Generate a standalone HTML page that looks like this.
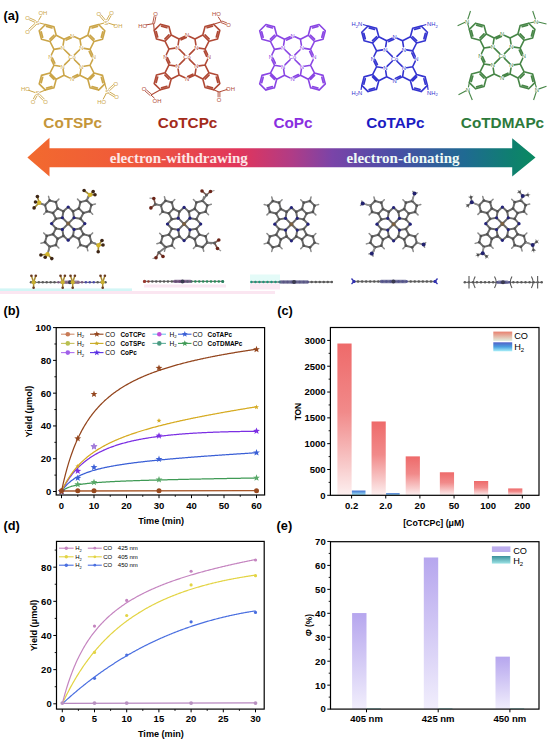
<!DOCTYPE html>
<html><head><meta charset="utf-8"><style>
html,body{margin:0;padding:0;background:#fff;}
svg{display:block;}
</style></head><body>
<svg width="550" height="746" viewBox="0 0 550 746">
<defs><linearGradient id="gco" x1="0" y1="0" x2="0" y2="1"><stop offset="0" stop-color="#ee6a6a"/><stop offset="0.45" stop-color="#f18a8a"/><stop offset="0.8" stop-color="#f8caca"/><stop offset="1" stop-color="#fdf0f0"/></linearGradient><linearGradient id="gh2" x1="0" y1="0" x2="0" y2="1"><stop offset="0" stop-color="#3e6fd0"/><stop offset="1" stop-color="#a8eef8"/></linearGradient><linearGradient id="gcoL" x1="0" y1="0" x2="0" y2="1"><stop offset="0" stop-color="#e8806e"/><stop offset="1" stop-color="#e2f0e0"/></linearGradient><linearGradient id="gh2L" x1="0" y1="0" x2="0" y2="1"><stop offset="0" stop-color="#5060c8"/><stop offset="0.5" stop-color="#4aa0e0"/><stop offset="1" stop-color="#a8f0f8"/></linearGradient><linearGradient id="gpe" x1="0" y1="0" x2="0" y2="1"><stop offset="0" stop-color="#b6a6ee"/><stop offset="1" stop-color="#f1eefc"/></linearGradient><linearGradient id="gteal" x1="0" y1="0" x2="0" y2="1"><stop offset="0" stop-color="#3a8f9a"/><stop offset="1" stop-color="#9de4e6"/></linearGradient><linearGradient id="garr" x1="27" y1="0" x2="536" y2="0" gradientUnits="userSpaceOnUse"><stop offset="0" stop-color="#f26a2e"/><stop offset="0.2" stop-color="#f05a3a"/><stop offset="0.42" stop-color="#e0355c"/><stop offset="0.52" stop-color="#b03c86"/><stop offset="0.6" stop-color="#7a44a8"/><stop offset="0.72" stop-color="#4a4ea6"/><stop offset="0.86" stop-color="#1f6a92"/><stop offset="0.95" stop-color="#0f7f70"/><stop offset="1" stop-color="#0a8a60"/></linearGradient></defs>
<text x="3.4" y="20" font-size="12.8" font-weight="bold" text-anchor="start" fill="#000" font-family="'Liberation Sans', sans-serif" >(a)</text>
<text x="3.4" y="315.3" font-size="12.8" font-weight="bold" text-anchor="start" fill="#000" font-family="'Liberation Sans', sans-serif" >(b)</text>
<text x="277.2" y="315.3" font-size="12.8" font-weight="bold" text-anchor="start" fill="#000" font-family="'Liberation Sans', sans-serif" >(c)</text>
<text x="3.4" y="529.5" font-size="12.8" font-weight="bold" text-anchor="start" fill="#000" font-family="'Liberation Sans', sans-serif" >(d)</text>
<text x="276.6" y="529.5" font-size="12.8" font-weight="bold" text-anchor="start" fill="#000" font-family="'Liberation Sans', sans-serif" >(e)</text>
<rect x="0" y="288.4" width="132" height="2.6" fill="#d2f6f6" />
<rect x="0" y="291" width="275" height="3" fill="#fbe6f1" />
<rect x="56.2" y="327.6" width="208.4" height="167.4" fill="none" stroke="#000" stroke-width="1.2"/>
<line x1="53" y1="491.5" x2="56.2" y2="491.5" stroke="#000" stroke-width="1" />
<text x="51.4" y="494.87" font-size="9.5" font-weight="bold" text-anchor="end" fill="#000" font-family="'Liberation Sans', sans-serif" >0</text>
<line x1="53" y1="458.72" x2="56.2" y2="458.72" stroke="#000" stroke-width="1" />
<text x="51.4" y="462.09" font-size="9.5" font-weight="bold" text-anchor="end" fill="#000" font-family="'Liberation Sans', sans-serif" >20</text>
<line x1="53" y1="425.94" x2="56.2" y2="425.94" stroke="#000" stroke-width="1" />
<text x="51.4" y="429.31" font-size="9.5" font-weight="bold" text-anchor="end" fill="#000" font-family="'Liberation Sans', sans-serif" >40</text>
<line x1="53" y1="393.16" x2="56.2" y2="393.16" stroke="#000" stroke-width="1" />
<text x="51.4" y="396.53" font-size="9.5" font-weight="bold" text-anchor="end" fill="#000" font-family="'Liberation Sans', sans-serif" >60</text>
<line x1="53" y1="360.38" x2="56.2" y2="360.38" stroke="#000" stroke-width="1" />
<text x="51.4" y="363.75" font-size="9.5" font-weight="bold" text-anchor="end" fill="#000" font-family="'Liberation Sans', sans-serif" >80</text>
<line x1="53" y1="327.6" x2="56.2" y2="327.6" stroke="#000" stroke-width="1" />
<text x="51.4" y="330.97" font-size="9.5" font-weight="bold" text-anchor="end" fill="#000" font-family="'Liberation Sans', sans-serif" >100</text>
<line x1="54.4" y1="475.11" x2="56.2" y2="475.11" stroke="#000" stroke-width="0.9" />
<line x1="54.4" y1="442.33" x2="56.2" y2="442.33" stroke="#000" stroke-width="0.9" />
<line x1="54.4" y1="409.55" x2="56.2" y2="409.55" stroke="#000" stroke-width="0.9" />
<line x1="54.4" y1="376.77" x2="56.2" y2="376.77" stroke="#000" stroke-width="0.9" />
<line x1="54.4" y1="343.99" x2="56.2" y2="343.99" stroke="#000" stroke-width="0.9" />
<line x1="61.5" y1="495" x2="61.5" y2="498.2" stroke="#000" stroke-width="1" />
<text x="61.5" y="508.8" font-size="9.5" font-weight="bold" text-anchor="middle" fill="#000" font-family="'Liberation Sans', sans-serif" >0</text>
<line x1="94" y1="495" x2="94" y2="498.2" stroke="#000" stroke-width="1" />
<text x="94" y="508.8" font-size="9.5" font-weight="bold" text-anchor="middle" fill="#000" font-family="'Liberation Sans', sans-serif" >10</text>
<line x1="126.5" y1="495" x2="126.5" y2="498.2" stroke="#000" stroke-width="1" />
<text x="126.5" y="508.8" font-size="9.5" font-weight="bold" text-anchor="middle" fill="#000" font-family="'Liberation Sans', sans-serif" >20</text>
<line x1="159" y1="495" x2="159" y2="498.2" stroke="#000" stroke-width="1" />
<text x="159" y="508.8" font-size="9.5" font-weight="bold" text-anchor="middle" fill="#000" font-family="'Liberation Sans', sans-serif" >30</text>
<line x1="191.5" y1="495" x2="191.5" y2="498.2" stroke="#000" stroke-width="1" />
<text x="191.5" y="508.8" font-size="9.5" font-weight="bold" text-anchor="middle" fill="#000" font-family="'Liberation Sans', sans-serif" >40</text>
<line x1="224" y1="495" x2="224" y2="498.2" stroke="#000" stroke-width="1" />
<text x="224" y="508.8" font-size="9.5" font-weight="bold" text-anchor="middle" fill="#000" font-family="'Liberation Sans', sans-serif" >50</text>
<line x1="256.5" y1="495" x2="256.5" y2="498.2" stroke="#000" stroke-width="1" />
<text x="256.5" y="508.8" font-size="9.5" font-weight="bold" text-anchor="middle" fill="#000" font-family="'Liberation Sans', sans-serif" >60</text>
<line x1="77.75" y1="495" x2="77.75" y2="496.8" stroke="#000" stroke-width="0.9" />
<line x1="110.25" y1="495" x2="110.25" y2="496.8" stroke="#000" stroke-width="0.9" />
<line x1="142.75" y1="495" x2="142.75" y2="496.8" stroke="#000" stroke-width="0.9" />
<line x1="175.25" y1="495" x2="175.25" y2="496.8" stroke="#000" stroke-width="0.9" />
<line x1="207.75" y1="495" x2="207.75" y2="496.8" stroke="#000" stroke-width="0.9" />
<line x1="240.25" y1="495" x2="240.25" y2="496.8" stroke="#000" stroke-width="0.9" />
<text transform="translate(32.2,411.6) rotate(-90)" font-size="9.1" font-weight="bold" text-anchor="middle" font-family="'Liberation Sans', sans-serif" fill="#000">Yield (&#956;mol)</text>
<text x="161.1" y="524.2" font-size="9.1" font-weight="bold" text-anchor="middle" fill="#000" font-family="'Liberation Sans', sans-serif" >Time (min)</text>
<g fill="none" stroke-linejoin="round">
<path d="M61.5,491.5 L62.31,490.82 L63.12,490.21 L63.94,489.67 L64.75,489.18 L65.56,488.73 L66.38,488.32 L67.19,487.95 L68,487.6 L68.81,487.29 L69.62,486.99 L70.44,486.72 L71.25,486.46 L72.06,486.22 L72.88,486 L73.69,485.79 L74.5,485.59 L75.31,485.4 L76.12,485.23 L76.94,485.06 L77.75,484.9 L78.56,484.75 L79.38,484.61 L80.19,484.47 L81,484.34 L81.81,484.22 L82.62,484.1 L83.44,483.98 L84.25,483.87 L85.06,483.77 L85.88,483.67 L86.69,483.57 L87.5,483.48 L88.31,483.38 L89.12,483.3 L89.94,483.21 L90.75,483.13 L91.56,483.05 L92.38,482.98 L93.19,482.9 L94,482.83 L94.81,482.76 L95.62,482.69 L96.44,482.63 L97.25,482.56 L98.06,482.5 L98.88,482.44 L99.69,482.38 L100.5,482.32 L101.31,482.27 L102.12,482.21 L102.94,482.16 L103.75,482.11 L104.56,482.06 L105.38,482.01 L106.19,481.96 L107,481.91 L107.81,481.86 L108.62,481.82 L109.44,481.77 L110.25,481.73 L111.06,481.68 L111.88,481.64 L112.69,481.6 L113.5,481.56 L114.31,481.52 L115.12,481.48 L115.94,481.44 L116.75,481.4 L117.56,481.36 L118.38,481.33 L119.19,481.29 L120,481.26 L120.81,481.22 L121.62,481.19 L122.44,481.15 L123.25,481.12 L124.06,481.08 L124.88,481.05 L125.69,481.02 L126.5,480.99 L127.31,480.96 L128.12,480.93 L128.94,480.9 L129.75,480.86 L130.56,480.84 L131.38,480.81 L132.19,480.78 L133,480.75 L133.81,480.72 L134.62,480.69 L135.44,480.66 L136.25,480.64 L137.06,480.61 L137.88,480.58 L138.69,480.56 L139.5,480.53 L140.31,480.5 L141.12,480.48 L141.94,480.45 L142.75,480.43 L143.56,480.4 L144.38,480.38 L145.19,480.35 L146,480.33 L146.81,480.3 L147.62,480.28 L148.44,480.26 L149.25,480.23 L150.06,480.21 L150.88,480.19 L151.69,480.16 L152.5,480.14 L153.31,480.12 L154.12,480.09 L154.94,480.07 L155.75,480.05 L156.56,480.03 L157.38,480.01 L158.19,479.99 L159,479.96 L159.81,479.94 L160.62,479.92 L161.44,479.9 L162.25,479.88 L163.06,479.86 L163.88,479.84 L164.69,479.82 L165.5,479.8 L166.31,479.78 L167.12,479.76 L167.94,479.74 L168.75,479.72 L169.56,479.7 L170.38,479.68 L171.19,479.66 L172,479.64 L172.81,479.62 L173.62,479.6 L174.44,479.58 L175.25,479.56 L176.06,479.54 L176.88,479.52 L177.69,479.51 L178.5,479.49 L179.31,479.47 L180.12,479.45 L180.94,479.43 L181.75,479.41 L182.56,479.4 L183.38,479.38 L184.19,479.36 L185,479.34 L185.81,479.32 L186.62,479.31 L187.44,479.29 L188.25,479.27 L189.06,479.25 L189.88,479.24 L190.69,479.22 L191.5,479.2 L192.31,479.18 L193.12,479.17 L193.94,479.15 L194.75,479.13 L195.56,479.12 L196.38,479.1 L197.19,479.08 L198,479.06 L198.81,479.05 L199.62,479.03 L200.44,479.01 L201.25,479 L202.06,478.98 L202.88,478.97 L203.69,478.95 L204.5,478.93 L205.31,478.92 L206.12,478.9 L206.94,478.88 L207.75,478.87 L208.56,478.85 L209.38,478.84 L210.19,478.82 L211,478.8 L211.81,478.79 L212.62,478.77 L213.44,478.76 L214.25,478.74 L215.06,478.72 L215.88,478.71 L216.69,478.69 L217.5,478.68 L218.31,478.66 L219.12,478.65 L219.94,478.63 L220.75,478.62 L221.56,478.6 L222.38,478.58 L223.19,478.57 L224,478.55 L224.81,478.54 L225.62,478.52 L226.44,478.51 L227.25,478.49 L228.06,478.48 L228.88,478.46 L229.69,478.45 L230.5,478.43 L231.31,478.42 L232.12,478.4 L232.94,478.39 L233.75,478.37 L234.56,478.36 L235.38,478.34 L236.19,478.33 L237,478.31 L237.81,478.3 L238.62,478.29 L239.44,478.27 L240.25,478.26 L241.06,478.24 L241.88,478.23 L242.69,478.21 L243.5,478.2 L244.31,478.18 L245.12,478.17 L245.94,478.15 L246.75,478.14 L247.56,478.13 L248.38,478.11 L249.19,478.1 L250,478.08 L250.81,478.07 L251.62,478.05 L252.44,478.04 L253.25,478.03 L254.06,478.01 L254.88,478 L255.69,477.98 L256.5,477.97" stroke="#3f9a55" stroke-width="1.25" fill="none"/>
<path d="M61.5,491.5 L62.31,490.28 L63.12,489.14 L63.94,488.07 L64.75,487.07 L65.56,486.13 L66.38,485.25 L67.19,484.41 L68,483.63 L68.81,482.88 L69.62,482.17 L70.44,481.5 L71.25,480.86 L72.06,480.25 L72.88,479.67 L73.69,479.12 L74.5,478.59 L75.31,478.08 L76.12,477.59 L76.94,477.13 L77.75,476.68 L78.56,476.25 L79.38,475.83 L80.19,475.43 L81,475.04 L81.81,474.67 L82.62,474.31 L83.44,473.96 L84.25,473.63 L85.06,473.3 L85.88,472.99 L86.69,472.68 L87.5,472.38 L88.31,472.09 L89.12,471.81 L89.94,471.54 L90.75,471.28 L91.56,471.02 L92.38,470.77 L93.19,470.52 L94,470.29 L94.81,470.05 L95.62,469.83 L96.44,469.61 L97.25,469.39 L98.06,469.18 L98.88,468.97 L99.69,468.77 L100.5,468.57 L101.31,468.38 L102.12,468.19 L102.94,468 L103.75,467.82 L104.56,467.64 L105.38,467.47 L106.19,467.3 L107,467.13 L107.81,466.97 L108.62,466.8 L109.44,466.64 L110.25,466.49 L111.06,466.33 L111.88,466.18 L112.69,466.03 L113.5,465.89 L114.31,465.74 L115.12,465.6 L115.94,465.46 L116.75,465.33 L117.56,465.19 L118.38,465.06 L119.19,464.93 L120,464.8 L120.81,464.67 L121.62,464.54 L122.44,464.42 L123.25,464.3 L124.06,464.18 L124.88,464.06 L125.69,463.94 L126.5,463.82 L127.31,463.71 L128.12,463.6 L128.94,463.48 L129.75,463.37 L130.56,463.26 L131.38,463.16 L132.19,463.05 L133,462.94 L133.81,462.84 L134.62,462.74 L135.44,462.63 L136.25,462.53 L137.06,462.43 L137.88,462.33 L138.69,462.24 L139.5,462.14 L140.31,462.04 L141.12,461.95 L141.94,461.85 L142.75,461.76 L143.56,461.67 L144.38,461.57 L145.19,461.48 L146,461.39 L146.81,461.3 L147.62,461.22 L148.44,461.13 L149.25,461.04 L150.06,460.95 L150.88,460.87 L151.69,460.78 L152.5,460.7 L153.31,460.62 L154.12,460.53 L154.94,460.45 L155.75,460.37 L156.56,460.29 L157.38,460.21 L158.19,460.13 L159,460.05 L159.81,459.97 L160.62,459.89 L161.44,459.81 L162.25,459.73 L163.06,459.66 L163.88,459.58 L164.69,459.51 L165.5,459.43 L166.31,459.36 L167.12,459.28 L167.94,459.21 L168.75,459.13 L169.56,459.06 L170.38,458.99 L171.19,458.92 L172,458.84 L172.81,458.77 L173.62,458.7 L174.44,458.63 L175.25,458.56 L176.06,458.49 L176.88,458.42 L177.69,458.35 L178.5,458.28 L179.31,458.22 L180.12,458.15 L180.94,458.08 L181.75,458.01 L182.56,457.94 L183.38,457.88 L184.19,457.81 L185,457.75 L185.81,457.68 L186.62,457.61 L187.44,457.55 L188.25,457.48 L189.06,457.42 L189.88,457.36 L190.69,457.29 L191.5,457.23 L192.31,457.16 L193.12,457.1 L193.94,457.04 L194.75,456.98 L195.56,456.91 L196.38,456.85 L197.19,456.79 L198,456.73 L198.81,456.67 L199.62,456.6 L200.44,456.54 L201.25,456.48 L202.06,456.42 L202.88,456.36 L203.69,456.3 L204.5,456.24 L205.31,456.18 L206.12,456.12 L206.94,456.06 L207.75,456 L208.56,455.94 L209.38,455.89 L210.19,455.83 L211,455.77 L211.81,455.71 L212.62,455.65 L213.44,455.59 L214.25,455.54 L215.06,455.48 L215.88,455.42 L216.69,455.37 L217.5,455.31 L218.31,455.25 L219.12,455.2 L219.94,455.14 L220.75,455.08 L221.56,455.03 L222.38,454.97 L223.19,454.91 L224,454.86 L224.81,454.8 L225.62,454.75 L226.44,454.69 L227.25,454.64 L228.06,454.58 L228.88,454.53 L229.69,454.47 L230.5,454.42 L231.31,454.36 L232.12,454.31 L232.94,454.26 L233.75,454.2 L234.56,454.15 L235.38,454.1 L236.19,454.04 L237,453.99 L237.81,453.93 L238.62,453.88 L239.44,453.83 L240.25,453.78 L241.06,453.72 L241.88,453.67 L242.69,453.62 L243.5,453.56 L244.31,453.51 L245.12,453.46 L245.94,453.41 L246.75,453.36 L247.56,453.3 L248.38,453.25 L249.19,453.2 L250,453.15 L250.81,453.1 L251.62,453.05 L252.44,452.99 L253.25,452.94 L254.06,452.89 L254.88,452.84 L255.69,452.79 L256.5,452.74" stroke="#3a5fd6" stroke-width="1.25" fill="none"/>
<path d="M61.5,491.5 L62.31,489.87 L63.12,488.31 L63.94,486.81 L64.75,485.36 L65.56,483.97 L66.38,482.63 L67.19,481.34 L68,480.09 L68.81,478.89 L69.62,477.73 L70.44,476.6 L71.25,475.52 L72.06,474.47 L72.88,473.45 L73.69,472.47 L74.5,471.52 L75.31,470.59 L76.12,469.7 L76.94,468.83 L77.75,467.99 L78.56,467.17 L79.38,466.38 L80.19,465.61 L81,464.86 L81.81,464.13 L82.62,463.42 L83.44,462.74 L84.25,462.07 L85.06,461.42 L85.88,460.78 L86.69,460.16 L87.5,459.56 L88.31,458.98 L89.12,458.41 L89.94,457.85 L90.75,457.31 L91.56,456.78 L92.38,456.26 L93.19,455.76 L94,455.27 L94.81,454.79 L95.62,454.32 L96.44,453.86 L97.25,453.41 L98.06,452.98 L98.88,452.55 L99.69,452.14 L100.5,451.73 L101.31,451.33 L102.12,450.94 L102.94,450.56 L103.75,450.19 L104.56,449.82 L105.38,449.47 L106.19,449.12 L107,448.78 L107.81,448.44 L108.62,448.11 L109.44,447.79 L110.25,447.48 L111.06,447.17 L111.88,446.87 L112.69,446.58 L113.5,446.29 L114.31,446 L115.12,445.73 L115.94,445.45 L116.75,445.19 L117.56,444.93 L118.38,444.67 L119.19,444.42 L120,444.17 L120.81,443.93 L121.62,443.69 L122.44,443.46 L123.25,443.23 L124.06,443.01 L124.88,442.79 L125.69,442.57 L126.5,442.36 L127.31,442.15 L128.12,441.95 L128.94,441.75 L129.75,441.55 L130.56,441.36 L131.38,441.17 L132.19,440.98 L133,440.8 L133.81,440.62 L134.62,440.44 L135.44,440.27 L136.25,440.1 L137.06,439.93 L137.88,439.77 L138.69,439.61 L139.5,439.45 L140.31,439.29 L141.12,439.14 L141.94,438.99 L142.75,438.84 L143.56,438.7 L144.38,438.55 L145.19,438.41 L146,438.28 L146.81,438.14 L147.62,438.01 L148.44,437.88 L149.25,437.75 L150.06,437.62 L150.88,437.5 L151.69,437.37 L152.5,437.25 L153.31,437.14 L154.12,437.02 L154.94,436.91 L155.75,436.79 L156.56,436.68 L157.38,436.58 L158.19,436.47 L159,436.36 L159.81,436.26 L160.62,436.16 L161.44,436.06 L162.25,435.96 L163.06,435.87 L163.88,435.77 L164.69,435.68 L165.5,435.59 L166.31,435.5 L167.12,435.41 L167.94,435.32 L168.75,435.23 L169.56,435.15 L170.38,435.07 L171.19,434.99 L172,434.91 L172.81,434.83 L173.62,434.75 L174.44,434.67 L175.25,434.6 L176.06,434.53 L176.88,434.45 L177.69,434.38 L178.5,434.31 L179.31,434.24 L180.12,434.18 L180.94,434.11 L181.75,434.04 L182.56,433.98 L183.38,433.92 L184.19,433.85 L185,433.79 L185.81,433.73 L186.62,433.67 L187.44,433.62 L188.25,433.56 L189.06,433.5 L189.88,433.45 L190.69,433.4 L191.5,433.34 L192.31,433.29 L193.12,433.24 L193.94,433.19 L194.75,433.14 L195.56,433.09 L196.38,433.04 L197.19,433 L198,432.95 L198.81,432.91 L199.62,432.86 L200.44,432.82 L201.25,432.78 L202.06,432.73 L202.88,432.69 L203.69,432.65 L204.5,432.61 L205.31,432.58 L206.12,432.54 L206.94,432.5 L207.75,432.46 L208.56,432.43 L209.38,432.39 L210.19,432.36 L211,432.32 L211.81,432.29 L212.62,432.26 L213.44,432.23 L214.25,432.2 L215.06,432.17 L215.88,432.14 L216.69,432.11 L217.5,432.08 L218.31,432.05 L219.12,432.02 L219.94,432 L220.75,431.97 L221.56,431.94 L222.38,431.92 L223.19,431.89 L224,431.87 L224.81,431.85 L225.62,431.82 L226.44,431.8 L227.25,431.78 L228.06,431.76 L228.88,431.74 L229.69,431.72 L230.5,431.7 L231.31,431.68 L232.12,431.66 L232.94,431.64 L233.75,431.63 L234.56,431.61 L235.38,431.59 L236.19,431.58 L237,431.56 L237.81,431.54 L238.62,431.53 L239.44,431.52 L240.25,431.5 L241.06,431.49 L241.88,431.47 L242.69,431.46 L243.5,431.45 L244.31,431.44 L245.12,431.43 L245.94,431.42 L246.75,431.41 L247.56,431.4 L248.38,431.39 L249.19,431.38 L250,431.37 L250.81,431.36 L251.62,431.35 L252.44,431.34 L253.25,431.33 L254.06,431.33 L254.88,431.32 L255.69,431.31 L256.5,431.31" stroke="#7b2fe3" stroke-width="1.25" fill="none"/>
<path d="M61.5,491.5 L62.31,489.71 L63.12,488 L63.94,486.36 L64.75,484.79 L65.56,483.27 L66.38,481.82 L67.19,480.42 L68,479.08 L68.81,477.78 L69.62,476.53 L70.44,475.32 L71.25,474.15 L72.06,473.02 L72.88,471.93 L73.69,470.87 L74.5,469.84 L75.31,468.85 L76.12,467.89 L76.94,466.95 L77.75,466.04 L78.56,465.16 L79.38,464.3 L80.19,463.47 L81,462.66 L81.81,461.86 L82.62,461.09 L83.44,460.34 L84.25,459.61 L85.06,458.9 L85.88,458.2 L86.69,457.52 L87.5,456.85 L88.31,456.2 L89.12,455.57 L89.94,454.95 L90.75,454.34 L91.56,453.74 L92.38,453.16 L93.19,452.59 L94,452.03 L94.81,451.48 L95.62,450.95 L96.44,450.42 L97.25,449.9 L98.06,449.4 L98.88,448.9 L99.69,448.41 L100.5,447.93 L101.31,447.46 L102.12,447 L102.94,446.54 L103.75,446.1 L104.56,445.66 L105.38,445.22 L106.19,444.8 L107,444.38 L107.81,443.97 L108.62,443.56 L109.44,443.16 L110.25,442.77 L111.06,442.38 L111.88,442 L112.69,441.62 L113.5,441.25 L114.31,440.89 L115.12,440.53 L115.94,440.17 L116.75,439.82 L117.56,439.47 L118.38,439.13 L119.19,438.79 L120,438.46 L120.81,438.13 L121.62,437.8 L122.44,437.48 L123.25,437.17 L124.06,436.85 L124.88,436.54 L125.69,436.24 L126.5,435.93 L127.31,435.63 L128.12,435.34 L128.94,435.05 L129.75,434.76 L130.56,434.47 L131.38,434.19 L132.19,433.91 L133,433.63 L133.81,433.35 L134.62,433.08 L135.44,432.81 L136.25,432.55 L137.06,432.28 L137.88,432.02 L138.69,431.76 L139.5,431.51 L140.31,431.25 L141.12,431 L141.94,430.75 L142.75,430.5 L143.56,430.26 L144.38,430.02 L145.19,429.77 L146,429.54 L146.81,429.3 L147.62,429.06 L148.44,428.83 L149.25,428.6 L150.06,428.37 L150.88,428.14 L151.69,427.92 L152.5,427.69 L153.31,427.47 L154.12,427.25 L154.94,427.03 L155.75,426.81 L156.56,426.6 L157.38,426.38 L158.19,426.17 L159,425.96 L159.81,425.75 L160.62,425.54 L161.44,425.33 L162.25,425.13 L163.06,424.92 L163.88,424.72 L164.69,424.52 L165.5,424.32 L166.31,424.12 L167.12,423.92 L167.94,423.73 L168.75,423.53 L169.56,423.34 L170.38,423.15 L171.19,422.95 L172,422.76 L172.81,422.57 L173.62,422.38 L174.44,422.2 L175.25,422.01 L176.06,421.83 L176.88,421.64 L177.69,421.46 L178.5,421.28 L179.31,421.09 L180.12,420.91 L180.94,420.73 L181.75,420.56 L182.56,420.38 L183.38,420.2 L184.19,420.03 L185,419.85 L185.81,419.68 L186.62,419.5 L187.44,419.33 L188.25,419.16 L189.06,418.99 L189.88,418.82 L190.69,418.65 L191.5,418.48 L192.31,418.31 L193.12,418.15 L193.94,417.98 L194.75,417.82 L195.56,417.65 L196.38,417.49 L197.19,417.32 L198,417.16 L198.81,417 L199.62,416.84 L200.44,416.68 L201.25,416.52 L202.06,416.36 L202.88,416.2 L203.69,416.04 L204.5,415.88 L205.31,415.73 L206.12,415.57 L206.94,415.41 L207.75,415.26 L208.56,415.1 L209.38,414.95 L210.19,414.8 L211,414.64 L211.81,414.49 L212.62,414.34 L213.44,414.19 L214.25,414.04 L215.06,413.89 L215.88,413.74 L216.69,413.59 L217.5,413.44 L218.31,413.29 L219.12,413.14 L219.94,412.99 L220.75,412.85 L221.56,412.7 L222.38,412.56 L223.19,412.41 L224,412.26 L224.81,412.12 L225.62,411.98 L226.44,411.83 L227.25,411.69 L228.06,411.55 L228.88,411.4 L229.69,411.26 L230.5,411.12 L231.31,410.98 L232.12,410.84 L232.94,410.7 L233.75,410.56 L234.56,410.42 L235.38,410.28 L236.19,410.14 L237,410 L237.81,409.86 L238.62,409.72 L239.44,409.59 L240.25,409.45 L241.06,409.31 L241.88,409.18 L242.69,409.04 L243.5,408.9 L244.31,408.77 L245.12,408.63 L245.94,408.5 L246.75,408.36 L247.56,408.23 L248.38,408.1 L249.19,407.96 L250,407.83 L250.81,407.7 L251.62,407.56 L252.44,407.43 L253.25,407.3 L254.06,407.17 L254.88,407.04 L255.69,406.9 L256.5,406.77" stroke="#d6ab22" stroke-width="1.25" fill="none"/>
<path d="M61.5,491.5 L62.31,487.64 L63.12,483.96 L63.94,480.46 L64.75,477.11 L65.56,473.92 L66.38,470.86 L67.19,467.93 L68,465.13 L68.81,462.44 L69.62,459.85 L70.44,457.37 L71.25,454.98 L72.06,452.68 L72.88,450.47 L73.69,448.34 L74.5,446.28 L75.31,444.29 L76.12,442.37 L76.94,440.52 L77.75,438.73 L78.56,436.99 L79.38,435.31 L80.19,433.68 L81,432.1 L81.81,430.57 L82.62,429.09 L83.44,427.65 L84.25,426.25 L85.06,424.89 L85.88,423.57 L86.69,422.28 L87.5,421.03 L88.31,419.81 L89.12,418.63 L89.94,417.48 L90.75,416.35 L91.56,415.25 L92.38,414.19 L93.19,413.14 L94,412.13 L94.81,411.13 L95.62,410.16 L96.44,409.22 L97.25,408.29 L98.06,407.39 L98.88,406.5 L99.69,405.64 L100.5,404.79 L101.31,403.96 L102.12,403.15 L102.94,402.36 L103.75,401.58 L104.56,400.82 L105.38,400.08 L106.19,399.35 L107,398.63 L107.81,397.93 L108.62,397.24 L109.44,396.57 L110.25,395.9 L111.06,395.25 L111.88,394.62 L112.69,393.99 L113.5,393.37 L114.31,392.77 L115.12,392.18 L115.94,391.59 L116.75,391.02 L117.56,390.46 L118.38,389.91 L119.19,389.36 L120,388.83 L120.81,388.3 L121.62,387.78 L122.44,387.27 L123.25,386.77 L124.06,386.28 L124.88,385.79 L125.69,385.32 L126.5,384.84 L127.31,384.38 L128.12,383.92 L128.94,383.48 L129.75,383.03 L130.56,382.6 L131.38,382.16 L132.19,381.74 L133,381.32 L133.81,380.91 L134.62,380.5 L135.44,380.1 L136.25,379.71 L137.06,379.32 L137.88,378.93 L138.69,378.55 L139.5,378.18 L140.31,377.81 L141.12,377.44 L141.94,377.08 L142.75,376.73 L143.56,376.38 L144.38,376.03 L145.19,375.69 L146,375.35 L146.81,375.01 L147.62,374.68 L148.44,374.36 L149.25,374.04 L150.06,373.72 L150.88,373.4 L151.69,373.09 L152.5,372.78 L153.31,372.48 L154.12,372.18 L154.94,371.88 L155.75,371.59 L156.56,371.3 L157.38,371.01 L158.19,370.72 L159,370.44 L159.81,370.16 L160.62,369.89 L161.44,369.62 L162.25,369.35 L163.06,369.08 L163.88,368.82 L164.69,368.55 L165.5,368.3 L166.31,368.04 L167.12,367.79 L167.94,367.54 L168.75,367.29 L169.56,367.04 L170.38,366.8 L171.19,366.55 L172,366.32 L172.81,366.08 L173.62,365.84 L174.44,365.61 L175.25,365.38 L176.06,365.15 L176.88,364.93 L177.69,364.7 L178.5,364.48 L179.31,364.26 L180.12,364.04 L180.94,363.82 L181.75,363.61 L182.56,363.4 L183.38,363.19 L184.19,362.98 L185,362.77 L185.81,362.56 L186.62,362.36 L187.44,362.16 L188.25,361.96 L189.06,361.76 L189.88,361.56 L190.69,361.36 L191.5,361.17 L192.31,360.98 L193.12,360.79 L193.94,360.6 L194.75,360.41 L195.56,360.22 L196.38,360.04 L197.19,359.85 L198,359.67 L198.81,359.49 L199.62,359.31 L200.44,359.13 L201.25,358.95 L202.06,358.78 L202.88,358.6 L203.69,358.43 L204.5,358.26 L205.31,358.09 L206.12,357.92 L206.94,357.75 L207.75,357.58 L208.56,357.41 L209.38,357.25 L210.19,357.09 L211,356.92 L211.81,356.76 L212.62,356.6 L213.44,356.44 L214.25,356.28 L215.06,356.12 L215.88,355.97 L216.69,355.81 L217.5,355.66 L218.31,355.5 L219.12,355.35 L219.94,355.2 L220.75,355.05 L221.56,354.9 L222.38,354.75 L223.19,354.6 L224,354.46 L224.81,354.31 L225.62,354.16 L226.44,354.02 L227.25,353.88 L228.06,353.73 L228.88,353.59 L229.69,353.45 L230.5,353.31 L231.31,353.17 L232.12,353.03 L232.94,352.89 L233.75,352.76 L234.56,352.62 L235.38,352.49 L236.19,352.35 L237,352.22 L237.81,352.08 L238.62,351.95 L239.44,351.82 L240.25,351.69 L241.06,351.56 L241.88,351.43 L242.69,351.3 L243.5,351.17 L244.31,351.04 L245.12,350.92 L245.94,350.79 L246.75,350.66 L247.56,350.54 L248.38,350.41 L249.19,350.29 L250,350.17 L250.81,350.04 L251.62,349.92 L252.44,349.8 L253.25,349.68 L254.06,349.56 L254.88,349.44 L255.69,349.32 L256.5,349.2" stroke="#93451d" stroke-width="1.25" fill="none"/>
</g>
<line x1="61.5" y1="491.01" x2="256.5" y2="490.68" stroke="#a8582a" stroke-width="1.3" />
<polygon points="61.5,487.9 62.39,490.28 64.92,490.39 62.94,491.97 63.62,494.41 61.5,493.01 59.38,494.41 60.06,491.97 58.08,490.39 60.61,490.28" fill="#58a868" />
<polygon points="77.75,480.85 78.64,483.23 81.17,483.34 79.19,484.92 79.87,487.36 77.75,485.96 75.63,487.36 76.31,484.92 74.33,483.34 76.86,483.23" fill="#58a868" />
<polygon points="94,478.72 94.89,481.1 97.42,481.21 95.44,482.79 96.12,485.23 94,483.83 91.88,485.23 92.56,482.79 90.58,481.21 93.11,481.1" fill="#58a868" />
<polygon points="159,476.1 159.89,478.48 162.42,478.59 160.44,480.17 161.12,482.61 159,481.21 156.88,482.61 157.56,480.17 155.58,478.59 158.11,478.48" fill="#58a868" />
<polygon points="256.5,474.3 257.39,476.67 259.92,476.78 257.94,478.36 258.62,480.81 256.5,479.41 254.38,480.81 255.06,478.36 253.08,476.78 255.61,476.67" fill="#58a868" />
<polygon points="61.5,487.9 62.39,490.28 64.92,490.39 62.94,491.97 63.62,494.41 61.5,493.01 59.38,494.41 60.06,491.97 58.08,490.39 60.61,490.28" fill="#3a5fd6" />
<polygon points="77.75,474.46 78.64,476.84 81.17,476.95 79.19,478.53 79.87,480.97 77.75,479.57 75.63,480.97 76.31,478.53 74.33,476.95 76.86,476.84" fill="#3a5fd6" />
<polygon points="94,463.64 94.89,466.02 97.42,466.13 95.44,467.71 96.12,470.16 94,468.75 91.88,470.16 92.56,467.71 90.58,466.13 93.11,466.02" fill="#3a5fd6" />
<polygon points="159,455.61 159.89,457.99 162.42,458.1 160.44,459.68 161.12,462.12 159,460.72 156.88,462.12 157.56,459.68 155.58,458.1 158.11,457.99" fill="#3a5fd6" />
<polygon points="256.5,449.06 257.39,451.43 259.92,451.54 257.94,453.12 258.62,455.57 256.5,454.17 254.38,455.57 255.06,453.12 253.08,451.54 255.61,451.43" fill="#3a5fd6" />
<polygon points="61.5,487.9 62.39,490.28 64.92,490.39 62.94,491.97 63.62,494.41 61.5,493.01 59.38,494.41 60.06,491.97 58.08,490.39 60.61,490.28" fill="#7b2fe3" />
<polygon points="77.75,467.41 78.64,469.79 81.17,469.9 79.19,471.48 79.87,473.92 77.75,472.52 75.63,473.92 76.31,471.48 74.33,469.9 76.86,469.79" fill="#7b2fe3" />
<polygon points="94,442.99 94.89,445.37 97.42,445.48 95.44,447.06 96.12,449.5 94,448.1 91.88,449.5 92.56,447.06 90.58,445.48 93.11,445.37" fill="#7b2fe3" />
<polygon points="159,432.17 159.89,434.55 162.42,434.66 160.44,436.24 161.12,438.69 159,437.29 156.88,438.69 157.56,436.24 155.58,434.66 158.11,434.55" fill="#7b2fe3" />
<polygon points="256.5,427.42 257.39,429.8 259.92,429.91 257.94,431.49 258.62,433.93 256.5,432.53 254.38,433.93 255.06,431.49 253.08,429.91 255.61,429.8" fill="#7b2fe3" />
<polygon points="61.5,488.9 62.14,490.62 63.97,490.7 62.54,491.84 63.03,493.6 61.5,492.59 59.97,493.6 60.46,491.84 59.03,490.7 60.86,490.62" fill="#d6ab22" />
<polygon points="77.75,463.66 78.39,465.38 80.22,465.46 78.79,466.6 79.28,468.36 77.75,467.35 76.22,468.36 76.71,466.6 75.28,465.46 77.11,465.38" fill="#d6ab22" />
<polygon points="159,418.1 159.64,419.81 161.47,419.89 160.04,421.03 160.53,422.8 159,421.79 157.47,422.8 157.96,421.03 156.53,419.89 158.36,419.81" fill="#d6ab22" />
<polygon points="256.5,404.49 257.14,406.21 258.97,406.29 257.54,407.43 258.03,409.19 256.5,408.18 254.97,409.19 255.46,407.43 254.03,406.29 255.86,406.21" fill="#d6ab22" />
<polygon points="61.5,487.9 62.39,490.28 64.92,490.39 62.94,491.97 63.62,494.41 61.5,493.01 59.38,494.41 60.06,491.97 58.08,490.39 60.61,490.28" fill="#93451d" />
<polygon points="77.75,434.96 78.64,437.34 81.17,437.45 79.19,439.03 79.87,441.47 77.75,440.07 75.63,441.47 76.31,439.03 74.33,437.45 76.86,437.34" fill="#93451d" />
<polygon points="94,390.54 94.89,392.92 97.42,393.03 95.44,394.61 96.12,397.06 94,395.66 91.88,397.06 92.56,394.61 90.58,393.03 93.11,392.92" fill="#93451d" />
<polygon points="159,364.48 159.89,366.86 162.42,366.97 160.44,368.55 161.12,371 159,369.6 156.88,371 157.56,368.55 155.58,366.97 158.11,366.86" fill="#93451d" />
<polygon points="256.5,345.8 257.39,348.18 259.92,348.29 257.94,349.87 258.62,352.31 256.5,350.91 254.38,352.31 255.06,349.87 253.08,348.29 255.61,348.18" fill="#93451d" />
<circle cx="61.5" cy="490.84" r="2.5" fill="#96481e" />
<circle cx="77.75" cy="490.84" r="2.5" fill="#96481e" />
<circle cx="94" cy="490.84" r="2.5" fill="#96481e" />
<circle cx="159" cy="490.84" r="2.5" fill="#96481e" />
<circle cx="256.5" cy="490.84" r="2.5" fill="#96481e" />
<polygon points="94,442.99 94.89,445.37 97.42,445.48 95.44,447.06 96.12,449.5 94,448.1 91.88,449.5 92.56,447.06 90.58,445.48 93.11,445.37" fill="#a483d6" />
<line x1="61" y1="334.2" x2="74.5" y2="334.2" stroke="#d09070" stroke-width="1.1" />
<circle cx="67.8" cy="334.2" r="2.3" fill="#c87a55" />
<line x1="61" y1="343.4" x2="74.5" y2="343.4" stroke="#c8c060" stroke-width="1.1" />
<circle cx="67.8" cy="343.4" r="2.3" fill="#b8c050" />
<line x1="61" y1="352.6" x2="74.5" y2="352.6" stroke="#b070f0" stroke-width="1.1" />
<circle cx="67.8" cy="352.6" r="2.3" fill="#a060e8" />
<text x="77" y="336.6" font-size="6.6" text-anchor="start" fill="#000" font-family="'Liberation Sans', sans-serif" >H<tspan font-size="4.4" dy="1.6">2</tspan></text>
<text x="77" y="345.8" font-size="6.6" text-anchor="start" fill="#000" font-family="'Liberation Sans', sans-serif" >H<tspan font-size="4.4" dy="1.6">2</tspan></text>
<text x="77" y="355" font-size="6.6" text-anchor="start" fill="#000" font-family="'Liberation Sans', sans-serif" >H<tspan font-size="4.4" dy="1.6">2</tspan></text>
<line x1="90" y1="334.2" x2="103.5" y2="334.2" stroke="#93451d" stroke-width="1.1" />
<polygon points="96.8,331 97.59,333.11 99.84,333.21 98.08,334.62 98.68,336.79 96.8,335.54 94.92,336.79 95.52,334.62 93.76,333.21 96.01,333.11" fill="#93451d" />
<line x1="90" y1="343.4" x2="103.5" y2="343.4" stroke="#c8aa22" stroke-width="1.1" />
<polygon points="96.8,341 97.39,342.58 99.08,342.66 97.76,343.71 98.21,345.34 96.8,344.41 95.39,345.34 95.84,343.71 94.52,342.66 96.21,342.58" fill="#c8aa22" />
<line x1="90" y1="352.6" x2="103.5" y2="352.6" stroke="#5a2fe3" stroke-width="1.1" />
<polygon points="96.8,349.4 97.59,351.51 99.84,351.61 98.08,353.02 98.68,355.19 96.8,353.94 94.92,355.19 95.52,353.02 93.76,351.61 96.01,351.51" fill="#5a2fe3" />
<text x="105.3" y="336.6" font-size="6.6" text-anchor="start" fill="#000" font-family="'Liberation Sans', sans-serif" >CO</text>
<text x="105.3" y="345.8" font-size="6.6" text-anchor="start" fill="#000" font-family="'Liberation Sans', sans-serif" >CO</text>
<text x="105.3" y="355" font-size="6.6" text-anchor="start" fill="#000" font-family="'Liberation Sans', sans-serif" >CO</text>
<text x="120.5" y="336.6" font-size="6.4" font-weight="bold" text-anchor="start" fill="#000" font-family="'Liberation Sans', sans-serif" >CoTCPc</text>
<text x="120.5" y="345.8" font-size="6.4" font-weight="bold" text-anchor="start" fill="#000" font-family="'Liberation Sans', sans-serif" >CoTSPc</text>
<text x="120.5" y="355" font-size="6.4" font-weight="bold" text-anchor="start" fill="#000" font-family="'Liberation Sans', sans-serif" >CoPc</text>
<line x1="152.5" y1="334.2" x2="166" y2="334.2" stroke="#70c8e8" stroke-width="1.1" />
<circle cx="159.3" cy="334.2" r="2.3" fill="#c050d8" />
<line x1="152.5" y1="343.4" x2="166" y2="343.4" stroke="#60b0a0" stroke-width="1.1" />
<circle cx="159.3" cy="343.4" r="2.3" fill="#4a9a80" />
<text x="169.5" y="336.6" font-size="6.6" text-anchor="start" fill="#000" font-family="'Liberation Sans', sans-serif" >H<tspan font-size="4.4" dy="1.6">2</tspan></text>
<text x="169.5" y="345.8" font-size="6.6" text-anchor="start" fill="#000" font-family="'Liberation Sans', sans-serif" >H<tspan font-size="4.4" dy="1.6">2</tspan></text>
<line x1="178" y1="334.2" x2="191.5" y2="334.2" stroke="#3a5fd6" stroke-width="1.1" />
<polygon points="184.8,331 185.59,333.11 187.84,333.21 186.08,334.62 186.68,336.79 184.8,335.54 182.92,336.79 183.52,334.62 181.76,333.21 184.01,333.11" fill="#3a5fd6" />
<line x1="178" y1="343.4" x2="191.5" y2="343.4" stroke="#3f9a55" stroke-width="1.1" />
<polygon points="184.8,340.2 185.59,342.31 187.84,342.41 186.08,343.82 186.68,345.99 184.8,344.74 182.92,345.99 183.52,343.82 181.76,342.41 184.01,342.31" fill="#3f9a55" />
<text x="192.8" y="336.6" font-size="6.6" text-anchor="start" fill="#000" font-family="'Liberation Sans', sans-serif" >CO</text>
<text x="192.8" y="345.8" font-size="6.6" text-anchor="start" fill="#000" font-family="'Liberation Sans', sans-serif" >CO</text>
<text x="207.6" y="336.6" font-size="6.4" font-weight="bold" text-anchor="start" fill="#000" font-family="'Liberation Sans', sans-serif" >CoTAPc</text>
<text x="207.6" y="345.8" font-size="6.4" font-weight="bold" text-anchor="start" fill="#000" font-family="'Liberation Sans', sans-serif" >CoTDMAPc</text>
<rect x="337.4" y="343.51" width="14.2" height="151.79" fill="url(#gco)" />
<rect x="351.9" y="490.55" width="13.6" height="4.75" fill="url(#gh2)" />
<rect x="371.55" y="421.47" width="14.2" height="73.83" fill="url(#gco)" />
<rect x="386.05" y="493.13" width="13.6" height="2.17" fill="url(#gh2)" />
<rect x="405.7" y="456.37" width="14.2" height="38.93" fill="url(#gco)" />
<rect x="439.85" y="472.27" width="14.2" height="23.03" fill="url(#gco)" />
<rect x="474" y="481" width="14.2" height="14.3" fill="url(#gco)" />
<rect x="508.15" y="488.43" width="14.2" height="6.87" fill="url(#gco)" />
<rect x="330.4" y="327.5" width="208.6" height="167.8" fill="none" stroke="#000" stroke-width="1.2"/>
<line x1="327.2" y1="495.3" x2="330.4" y2="495.3" stroke="#000" stroke-width="1" />
<text x="325.6" y="498.67" font-size="9.5" font-weight="bold" text-anchor="end" fill="#000" font-family="'Liberation Sans', sans-serif" >0</text>
<line x1="327.2" y1="469.49" x2="330.4" y2="469.49" stroke="#000" stroke-width="1" />
<text x="325.6" y="472.86" font-size="9.5" font-weight="bold" text-anchor="end" fill="#000" font-family="'Liberation Sans', sans-serif" >500</text>
<line x1="327.2" y1="443.67" x2="330.4" y2="443.67" stroke="#000" stroke-width="1" />
<text x="325.6" y="447.04" font-size="9.5" font-weight="bold" text-anchor="end" fill="#000" font-family="'Liberation Sans', sans-serif" >1000</text>
<line x1="327.2" y1="417.86" x2="330.4" y2="417.86" stroke="#000" stroke-width="1" />
<text x="325.6" y="421.23" font-size="9.5" font-weight="bold" text-anchor="end" fill="#000" font-family="'Liberation Sans', sans-serif" >1500</text>
<line x1="327.2" y1="392.04" x2="330.4" y2="392.04" stroke="#000" stroke-width="1" />
<text x="325.6" y="395.41" font-size="9.5" font-weight="bold" text-anchor="end" fill="#000" font-family="'Liberation Sans', sans-serif" >2000</text>
<line x1="327.2" y1="366.23" x2="330.4" y2="366.23" stroke="#000" stroke-width="1" />
<text x="325.6" y="369.6" font-size="9.5" font-weight="bold" text-anchor="end" fill="#000" font-family="'Liberation Sans', sans-serif" >2500</text>
<line x1="327.2" y1="340.41" x2="330.4" y2="340.41" stroke="#000" stroke-width="1" />
<text x="325.6" y="343.78" font-size="9.5" font-weight="bold" text-anchor="end" fill="#000" font-family="'Liberation Sans', sans-serif" >3000</text>
<line x1="328.6" y1="482.39" x2="330.4" y2="482.39" stroke="#000" stroke-width="0.9" />
<line x1="328.6" y1="456.58" x2="330.4" y2="456.58" stroke="#000" stroke-width="0.9" />
<line x1="328.6" y1="430.76" x2="330.4" y2="430.76" stroke="#000" stroke-width="0.9" />
<line x1="328.6" y1="404.95" x2="330.4" y2="404.95" stroke="#000" stroke-width="0.9" />
<line x1="328.6" y1="379.13" x2="330.4" y2="379.13" stroke="#000" stroke-width="0.9" />
<line x1="328.6" y1="353.32" x2="330.4" y2="353.32" stroke="#000" stroke-width="0.9" />
<line x1="351.6" y1="495.3" x2="351.6" y2="498.5" stroke="#000" stroke-width="1" />
<text x="351.6" y="508.5" font-size="9.5" font-weight="bold" text-anchor="middle" fill="#000" font-family="'Liberation Sans', sans-serif" >0.2</text>
<line x1="385.75" y1="495.3" x2="385.75" y2="498.5" stroke="#000" stroke-width="1" />
<text x="385.75" y="508.5" font-size="9.5" font-weight="bold" text-anchor="middle" fill="#000" font-family="'Liberation Sans', sans-serif" >2.0</text>
<line x1="419.9" y1="495.3" x2="419.9" y2="498.5" stroke="#000" stroke-width="1" />
<text x="419.9" y="508.5" font-size="9.5" font-weight="bold" text-anchor="middle" fill="#000" font-family="'Liberation Sans', sans-serif" >20</text>
<line x1="454.05" y1="495.3" x2="454.05" y2="498.5" stroke="#000" stroke-width="1" />
<text x="454.05" y="508.5" font-size="9.5" font-weight="bold" text-anchor="middle" fill="#000" font-family="'Liberation Sans', sans-serif" >50</text>
<line x1="488.2" y1="495.3" x2="488.2" y2="498.5" stroke="#000" stroke-width="1" />
<text x="488.2" y="508.5" font-size="9.5" font-weight="bold" text-anchor="middle" fill="#000" font-family="'Liberation Sans', sans-serif" >100</text>
<line x1="522.35" y1="495.3" x2="522.35" y2="498.5" stroke="#000" stroke-width="1" />
<text x="522.35" y="508.5" font-size="9.5" font-weight="bold" text-anchor="middle" fill="#000" font-family="'Liberation Sans', sans-serif" >200</text>
<text transform="translate(300.6,411.6) rotate(-90)" font-size="8.4" font-weight="bold" text-anchor="middle" font-family="'Liberation Sans', sans-serif" fill="#000">TON</text>
<text x="433.7" y="525.5" font-size="8.8" font-weight="bold" text-anchor="middle" fill="#000" font-family="'Liberation Sans', sans-serif" >[CoTCPc] (&#956;M)</text>
<rect x="493.3" y="331.6" width="18.9" height="9.4" fill="url(#gcoL)" />
<rect x="493.3" y="342.3" width="18.9" height="9" fill="url(#gh2L)" />
<text x="514.2" y="339.3" font-size="9.2" text-anchor="start" fill="#000" font-family="'Liberation Sans', sans-serif" >CO</text>
<text x="514.2" y="350" font-size="9.2" text-anchor="start" fill="#000" font-family="'Liberation Sans', sans-serif" >H<tspan font-size="6" dy="2">2</tspan></text>
<rect x="56.5" y="541.4" width="207.7" height="167.7" fill="none" stroke="#000" stroke-width="1.2"/>
<line x1="53.3" y1="703.8" x2="56.5" y2="703.8" stroke="#000" stroke-width="1" />
<text x="51.7" y="707.17" font-size="9.5" font-weight="bold" text-anchor="end" fill="#000" font-family="'Liberation Sans', sans-serif" >0</text>
<line x1="53.3" y1="669.64" x2="56.5" y2="669.64" stroke="#000" stroke-width="1" />
<text x="51.7" y="673.01" font-size="9.5" font-weight="bold" text-anchor="end" fill="#000" font-family="'Liberation Sans', sans-serif" >20</text>
<line x1="53.3" y1="635.48" x2="56.5" y2="635.48" stroke="#000" stroke-width="1" />
<text x="51.7" y="638.85" font-size="9.5" font-weight="bold" text-anchor="end" fill="#000" font-family="'Liberation Sans', sans-serif" >40</text>
<line x1="53.3" y1="601.32" x2="56.5" y2="601.32" stroke="#000" stroke-width="1" />
<text x="51.7" y="604.69" font-size="9.5" font-weight="bold" text-anchor="end" fill="#000" font-family="'Liberation Sans', sans-serif" >60</text>
<line x1="53.3" y1="567.16" x2="56.5" y2="567.16" stroke="#000" stroke-width="1" />
<text x="51.7" y="570.53" font-size="9.5" font-weight="bold" text-anchor="end" fill="#000" font-family="'Liberation Sans', sans-serif" >80</text>
<line x1="54.7" y1="686.72" x2="56.5" y2="686.72" stroke="#000" stroke-width="0.9" />
<line x1="54.7" y1="652.56" x2="56.5" y2="652.56" stroke="#000" stroke-width="0.9" />
<line x1="54.7" y1="618.4" x2="56.5" y2="618.4" stroke="#000" stroke-width="0.9" />
<line x1="54.7" y1="584.24" x2="56.5" y2="584.24" stroke="#000" stroke-width="0.9" />
<line x1="54.7" y1="550.08" x2="56.5" y2="550.08" stroke="#000" stroke-width="0.9" />
<line x1="62.3" y1="709.1" x2="62.3" y2="712.3" stroke="#000" stroke-width="1" />
<text x="62.3" y="722.2" font-size="9.5" font-weight="bold" text-anchor="middle" fill="#000" font-family="'Liberation Sans', sans-serif" >0</text>
<line x1="94.5" y1="709.1" x2="94.5" y2="712.3" stroke="#000" stroke-width="1" />
<text x="94.5" y="722.2" font-size="9.5" font-weight="bold" text-anchor="middle" fill="#000" font-family="'Liberation Sans', sans-serif" >5</text>
<line x1="126.7" y1="709.1" x2="126.7" y2="712.3" stroke="#000" stroke-width="1" />
<text x="126.7" y="722.2" font-size="9.5" font-weight="bold" text-anchor="middle" fill="#000" font-family="'Liberation Sans', sans-serif" >10</text>
<line x1="158.9" y1="709.1" x2="158.9" y2="712.3" stroke="#000" stroke-width="1" />
<text x="158.9" y="722.2" font-size="9.5" font-weight="bold" text-anchor="middle" fill="#000" font-family="'Liberation Sans', sans-serif" >15</text>
<line x1="191.1" y1="709.1" x2="191.1" y2="712.3" stroke="#000" stroke-width="1" />
<text x="191.1" y="722.2" font-size="9.5" font-weight="bold" text-anchor="middle" fill="#000" font-family="'Liberation Sans', sans-serif" >20</text>
<line x1="223.3" y1="709.1" x2="223.3" y2="712.3" stroke="#000" stroke-width="1" />
<text x="223.3" y="722.2" font-size="9.5" font-weight="bold" text-anchor="middle" fill="#000" font-family="'Liberation Sans', sans-serif" >25</text>
<line x1="255.5" y1="709.1" x2="255.5" y2="712.3" stroke="#000" stroke-width="1" />
<text x="255.5" y="722.2" font-size="9.5" font-weight="bold" text-anchor="middle" fill="#000" font-family="'Liberation Sans', sans-serif" >30</text>
<line x1="78.4" y1="709.1" x2="78.4" y2="710.9" stroke="#000" stroke-width="0.9" />
<line x1="110.6" y1="709.1" x2="110.6" y2="710.9" stroke="#000" stroke-width="0.9" />
<line x1="142.8" y1="709.1" x2="142.8" y2="710.9" stroke="#000" stroke-width="0.9" />
<line x1="175" y1="709.1" x2="175" y2="710.9" stroke="#000" stroke-width="0.9" />
<line x1="207.2" y1="709.1" x2="207.2" y2="710.9" stroke="#000" stroke-width="0.9" />
<line x1="239.4" y1="709.1" x2="239.4" y2="710.9" stroke="#000" stroke-width="0.9" />
<text transform="translate(36.9,625.5) rotate(-90)" font-size="9.1" font-weight="bold" text-anchor="middle" font-family="'Liberation Sans', sans-serif" fill="#000">Yield (&#956;mol)</text>
<text x="160.9" y="737.4" font-size="9.1" font-weight="bold" text-anchor="middle" fill="#000" font-family="'Liberation Sans', sans-serif" >Time (min)</text>
<path d="M62.3,703.8 L63.1,703.05 L63.91,702.31 L64.72,701.58 L65.52,700.84 L66.33,700.11 L67.13,699.39 L67.94,698.67 L68.74,697.95 L69.55,697.24 L70.35,696.53 L71.16,695.82 L71.96,695.12 L72.77,694.42 L73.57,693.73 L74.38,693.04 L75.18,692.35 L75.98,691.67 L76.79,690.99 L77.59,690.32 L78.4,689.65 L79.2,688.98 L80.01,688.32 L80.81,687.66 L81.62,687 L82.42,686.35 L83.23,685.7 L84.03,685.06 L84.84,684.42 L85.64,683.78 L86.45,683.15 L87.25,682.52 L88.06,681.89 L88.86,681.27 L89.67,680.65 L90.47,680.03 L91.28,679.42 L92.08,678.81 L92.89,678.2 L93.69,677.6 L94.5,677 L95.31,676.41 L96.11,675.82 L96.91,675.23 L97.72,674.64 L98.53,674.06 L99.33,673.48 L100.13,672.91 L100.94,672.34 L101.75,671.77 L102.55,671.21 L103.35,670.64 L104.16,670.09 L104.97,669.53 L105.77,668.98 L106.58,668.43 L107.38,667.89 L108.19,667.34 L108.99,666.81 L109.8,666.27 L110.6,665.74 L111.41,665.21 L112.21,664.68 L113.02,664.16 L113.82,663.64 L114.62,663.12 L115.43,662.61 L116.23,662.1 L117.04,661.59 L117.84,661.09 L118.65,660.58 L119.45,660.09 L120.26,659.59 L121.06,659.1 L121.87,658.61 L122.68,658.12 L123.48,657.64 L124.28,657.16 L125.09,656.68 L125.9,656.21 L126.7,655.73 L127.5,655.26 L128.31,654.8 L129.12,654.34 L129.92,653.88 L130.72,653.42 L131.53,652.96 L132.34,652.51 L133.14,652.06 L133.94,651.62 L134.75,651.17 L135.56,650.73 L136.36,650.29 L137.17,649.86 L137.97,649.43 L138.78,649 L139.58,648.57 L140.38,648.15 L141.19,647.73 L142,647.31 L142.8,646.89 L143.61,646.48 L144.41,646.07 L145.22,645.66 L146.02,645.25 L146.82,644.85 L147.63,644.45 L148.44,644.05 L149.24,643.66 L150.05,643.27 L150.85,642.88 L151.66,642.49 L152.46,642.1 L153.26,641.72 L154.07,641.34 L154.88,640.96 L155.68,640.59 L156.49,640.22 L157.29,639.85 L158.09,639.48 L158.9,639.12 L159.7,638.75 L160.51,638.4 L161.31,638.04 L162.12,637.68 L162.93,637.33 L163.73,636.98 L164.53,636.63 L165.34,636.29 L166.15,635.95 L166.95,635.6 L167.75,635.27 L168.56,634.93 L169.37,634.6 L170.17,634.27 L170.98,633.94 L171.78,633.61 L172.59,633.29 L173.39,632.97 L174.19,632.65 L175,632.33 L175.81,632.02 L176.61,631.7 L177.42,631.39 L178.22,631.08 L179.03,630.78 L179.83,630.47 L180.63,630.17 L181.44,629.87 L182.25,629.58 L183.05,629.28 L183.86,628.99 L184.66,628.7 L185.47,628.41 L186.27,628.13 L187.07,627.84 L187.88,627.56 L188.69,627.28 L189.49,627 L190.3,626.73 L191.1,626.46 L191.91,626.18 L192.71,625.92 L193.51,625.65 L194.32,625.38 L195.12,625.12 L195.93,624.86 L196.74,624.6 L197.54,624.35 L198.35,624.09 L199.15,623.84 L199.95,623.59 L200.76,623.34 L201.56,623.1 L202.37,622.85 L203.18,622.61 L203.98,622.37 L204.79,622.13 L205.59,621.89 L206.39,621.66 L207.2,621.43 L208,621.2 L208.81,620.97 L209.62,620.74 L210.42,620.52 L211.23,620.3 L212.03,620.07 L212.83,619.86 L213.64,619.64 L214.44,619.42 L215.25,619.21 L216.06,619 L216.86,618.79 L217.67,618.58 L218.47,618.38 L219.28,618.18 L220.08,617.97 L220.88,617.77 L221.69,617.58 L222.5,617.38 L223.3,617.19 L224.11,616.99 L224.91,616.8 L225.72,616.61 L226.52,616.43 L227.32,616.24 L228.13,616.06 L228.94,615.88 L229.74,615.7 L230.55,615.52 L231.35,615.34 L232.16,615.17 L232.96,614.99 L233.76,614.82 L234.57,614.65 L235.38,614.49 L236.18,614.32 L236.99,614.16 L237.79,613.99 L238.6,613.83 L239.4,613.67 L240.2,613.52 L241.01,613.36 L241.81,613.21 L242.62,613.05 L243.43,612.9 L244.23,612.75 L245.04,612.61 L245.84,612.46 L246.64,612.32 L247.45,612.18 L248.25,612.04 L249.06,611.9 L249.87,611.76 L250.67,611.62 L251.48,611.49 L252.28,611.36 L253.09,611.23 L253.89,611.1 L254.69,610.97 L255.5,610.84" stroke="#4a6fe0" stroke-width="1.2" fill="none"/>
<circle cx="94.5" cy="678.35" r="1.6" fill="#4a6fe0" />
<circle cx="126.7" cy="655.12" r="1.6" fill="#4a6fe0" />
<circle cx="191.1" cy="621.82" r="1.6" fill="#4a6fe0" />
<circle cx="255.5" cy="612.42" r="1.6" fill="#4a6fe0" />
<path d="M62.3,703.8 L63.1,702.06 L63.91,700.35 L64.72,698.67 L65.52,697.02 L66.33,695.39 L67.13,693.79 L67.94,692.21 L68.74,690.66 L69.55,689.14 L70.35,687.63 L71.16,686.15 L71.96,684.7 L72.77,683.26 L73.57,681.85 L74.38,680.46 L75.18,679.09 L75.98,677.74 L76.79,676.41 L77.59,675.1 L78.4,673.81 L79.2,672.54 L80.01,671.28 L80.81,670.05 L81.62,668.83 L82.42,667.63 L83.23,666.45 L84.03,665.28 L84.84,664.13 L85.64,663 L86.45,661.88 L87.25,660.78 L88.06,659.69 L88.86,658.62 L89.67,657.56 L90.47,656.51 L91.28,655.49 L92.08,654.47 L92.89,653.47 L93.69,652.48 L94.5,651.5 L95.31,650.54 L96.11,649.59 L96.91,648.65 L97.72,647.73 L98.53,646.82 L99.33,645.92 L100.13,645.03 L100.94,644.15 L101.75,643.28 L102.55,642.42 L103.35,641.58 L104.16,640.74 L104.97,639.92 L105.77,639.11 L106.58,638.3 L107.38,637.51 L108.19,636.72 L108.99,635.95 L109.8,635.18 L110.6,634.43 L111.41,633.68 L112.21,632.94 L113.02,632.22 L113.82,631.5 L114.62,630.79 L115.43,630.08 L116.23,629.39 L117.04,628.7 L117.84,628.02 L118.65,627.35 L119.45,626.69 L120.26,626.04 L121.06,625.39 L121.87,624.75 L122.68,624.12 L123.48,623.49 L124.28,622.88 L125.09,622.27 L125.9,621.66 L126.7,621.07 L127.5,620.48 L128.31,619.89 L129.12,619.32 L129.92,618.75 L130.72,618.18 L131.53,617.63 L132.34,617.08 L133.14,616.53 L133.94,615.99 L134.75,615.46 L135.56,614.93 L136.36,614.41 L137.17,613.9 L137.97,613.39 L138.78,612.88 L139.58,612.38 L140.38,611.89 L141.19,611.4 L142,610.92 L142.8,610.44 L143.61,609.97 L144.41,609.5 L145.22,609.04 L146.02,608.58 L146.82,608.13 L147.63,607.68 L148.44,607.24 L149.24,606.8 L150.05,606.37 L150.85,605.94 L151.66,605.51 L152.46,605.09 L153.26,604.68 L154.07,604.26 L154.88,603.86 L155.68,603.45 L156.49,603.06 L157.29,602.66 L158.09,602.27 L158.9,601.88 L159.7,601.5 L160.51,601.12 L161.31,600.75 L162.12,600.38 L162.93,600.01 L163.73,599.65 L164.53,599.29 L165.34,598.93 L166.15,598.58 L166.95,598.23 L167.75,597.89 L168.56,597.55 L169.37,597.21 L170.17,596.87 L170.98,596.54 L171.78,596.21 L172.59,595.89 L173.39,595.57 L174.19,595.25 L175,594.94 L175.81,594.62 L176.61,594.32 L177.42,594.01 L178.22,593.71 L179.03,593.41 L179.83,593.11 L180.63,592.82 L181.44,592.53 L182.25,592.24 L183.05,591.95 L183.86,591.67 L184.66,591.39 L185.47,591.12 L186.27,590.84 L187.07,590.57 L187.88,590.3 L188.69,590.04 L189.49,589.78 L190.3,589.52 L191.1,589.26 L191.91,589 L192.71,588.75 L193.51,588.5 L194.32,588.25 L195.12,588.01 L195.93,587.76 L196.74,587.52 L197.54,587.28 L198.35,587.05 L199.15,586.81 L199.95,586.58 L200.76,586.35 L201.56,586.13 L202.37,585.9 L203.18,585.68 L203.98,585.46 L204.79,585.24 L205.59,585.03 L206.39,584.81 L207.2,584.6 L208,584.39 L208.81,584.19 L209.62,583.98 L210.42,583.78 L211.23,583.58 L212.03,583.38 L212.83,583.18 L213.64,582.98 L214.44,582.79 L215.25,582.6 L216.06,582.41 L216.86,582.22 L217.67,582.03 L218.47,581.85 L219.28,581.67 L220.08,581.49 L220.88,581.31 L221.69,581.13 L222.5,580.96 L223.3,580.78 L224.11,580.61 L224.91,580.44 L225.72,580.27 L226.52,580.11 L227.32,579.94 L228.13,579.78 L228.94,579.62 L229.74,579.45 L230.55,579.3 L231.35,579.14 L232.16,578.98 L232.96,578.83 L233.76,578.68 L234.57,578.53 L235.38,578.38 L236.18,578.23 L236.99,578.08 L237.79,577.94 L238.6,577.8 L239.4,577.65 L240.2,577.51 L241.01,577.37 L241.81,577.24 L242.62,577.1 L243.43,576.97 L244.23,576.83 L245.04,576.7 L245.84,576.57 L246.64,576.44 L247.45,576.31 L248.25,576.19 L249.06,576.06 L249.87,575.94 L250.67,575.81 L251.48,575.69 L252.28,575.57 L253.09,575.45 L253.89,575.34 L254.69,575.22 L255.5,575.1" stroke="#e3d444" stroke-width="1.2" fill="none"/>
<circle cx="94.5" cy="652.39" r="1.6" fill="#e3d444" />
<circle cx="126.7" cy="615.5" r="1.6" fill="#e3d444" />
<circle cx="191.1" cy="584.92" r="1.6" fill="#e3d444" />
<circle cx="255.5" cy="575.7" r="1.6" fill="#e3d444" />
<path d="M62.3,703.8 L63.1,700.64 L63.91,697.6 L64.72,694.67 L65.52,691.85 L66.33,689.14 L67.13,686.52 L67.94,684 L68.74,681.56 L69.55,679.2 L70.35,676.92 L71.16,674.72 L71.96,672.59 L72.77,670.52 L73.57,668.52 L74.38,666.58 L75.18,664.69 L75.98,662.86 L76.79,661.09 L77.59,659.36 L78.4,657.68 L79.2,656.05 L80.01,654.47 L80.81,652.92 L81.62,651.42 L82.42,649.95 L83.23,648.53 L84.03,647.14 L84.84,645.78 L85.64,644.46 L86.45,643.16 L87.25,641.9 L88.06,640.67 L88.86,639.47 L89.67,638.29 L90.47,637.14 L91.28,636.02 L92.08,634.92 L92.89,633.85 L93.69,632.8 L94.5,631.77 L95.31,630.76 L96.11,629.77 L96.91,628.8 L97.72,627.85 L98.53,626.92 L99.33,626.01 L100.13,625.12 L100.94,624.24 L101.75,623.38 L102.55,622.54 L103.35,621.71 L104.16,620.9 L104.97,620.1 L105.77,619.31 L106.58,618.54 L107.38,617.78 L108.19,617.04 L108.99,616.31 L109.8,615.59 L110.6,614.88 L111.41,614.19 L112.21,613.5 L113.02,612.83 L113.82,612.17 L114.62,611.51 L115.43,610.87 L116.23,610.24 L117.04,609.62 L117.84,609 L118.65,608.4 L119.45,607.8 L120.26,607.22 L121.06,606.64 L121.87,606.07 L122.68,605.51 L123.48,604.96 L124.28,604.41 L125.09,603.87 L125.9,603.34 L126.7,602.82 L127.5,602.3 L128.31,601.79 L129.12,601.29 L129.92,600.79 L130.72,600.3 L131.53,599.82 L132.34,599.34 L133.14,598.87 L133.94,598.4 L134.75,597.94 L135.56,597.49 L136.36,597.04 L137.17,596.59 L137.97,596.15 L138.78,595.72 L139.58,595.29 L140.38,594.87 L141.19,594.45 L142,594.04 L142.8,593.63 L143.61,593.22 L144.41,592.82 L145.22,592.42 L146.02,592.03 L146.82,591.65 L147.63,591.26 L148.44,590.88 L149.24,590.51 L150.05,590.14 L150.85,589.77 L151.66,589.4 L152.46,589.04 L153.26,588.69 L154.07,588.33 L154.88,587.98 L155.68,587.64 L156.49,587.29 L157.29,586.95 L158.09,586.62 L158.9,586.28 L159.7,585.95 L160.51,585.63 L161.31,585.3 L162.12,584.98 L162.93,584.66 L163.73,584.35 L164.53,584.04 L165.34,583.73 L166.15,583.42 L166.95,583.11 L167.75,582.81 L168.56,582.51 L169.37,582.22 L170.17,581.92 L170.98,581.63 L171.78,581.34 L172.59,581.05 L173.39,580.77 L174.19,580.49 L175,580.21 L175.81,579.93 L176.61,579.65 L177.42,579.38 L178.22,579.11 L179.03,578.84 L179.83,578.57 L180.63,578.3 L181.44,578.04 L182.25,577.78 L183.05,577.52 L183.86,577.26 L184.66,577.01 L185.47,576.75 L186.27,576.5 L187.07,576.25 L187.88,576 L188.69,575.75 L189.49,575.51 L190.3,575.27 L191.1,575.02 L191.91,574.78 L192.71,574.55 L193.51,574.31 L194.32,574.07 L195.12,573.84 L195.93,573.61 L196.74,573.38 L197.54,573.15 L198.35,572.92 L199.15,572.69 L199.95,572.47 L200.76,572.25 L201.56,572.02 L202.37,571.8 L203.18,571.58 L203.98,571.37 L204.79,571.15 L205.59,570.93 L206.39,570.72 L207.2,570.51 L208,570.3 L208.81,570.08 L209.62,569.88 L210.42,569.67 L211.23,569.46 L212.03,569.26 L212.83,569.05 L213.64,568.85 L214.44,568.65 L215.25,568.44 L216.06,568.24 L216.86,568.05 L217.67,567.85 L218.47,567.65 L219.28,567.46 L220.08,567.26 L220.88,567.07 L221.69,566.87 L222.5,566.68 L223.3,566.49 L224.11,566.3 L224.91,566.11 L225.72,565.93 L226.52,565.74 L227.32,565.55 L228.13,565.37 L228.94,565.18 L229.74,565 L230.55,564.82 L231.35,564.64 L232.16,564.46 L232.96,564.28 L233.76,564.1 L234.57,563.92 L235.38,563.74 L236.18,563.57 L236.99,563.39 L237.79,563.21 L238.6,563.04 L239.4,562.87 L240.2,562.69 L241.01,562.52 L241.81,562.35 L242.62,562.18 L243.43,562.01 L244.23,561.84 L245.04,561.68 L245.84,561.51 L246.64,561.34 L247.45,561.18 L248.25,561.01 L249.06,560.85 L249.87,560.68 L250.67,560.52 L251.48,560.36 L252.28,560.19 L253.09,560.03 L253.89,559.87 L254.69,559.71 L255.5,559.55" stroke="#c585c0" stroke-width="1.2" fill="none"/>
<circle cx="94.5" cy="626.09" r="1.6" fill="#c585c0" />
<circle cx="126.7" cy="600.47" r="1.6" fill="#c585c0" />
<circle cx="191.1" cy="571.26" r="1.6" fill="#c585c0" />
<circle cx="255.5" cy="559.99" r="1.6" fill="#c585c0" />
<line x1="62.3" y1="703.29" x2="255.5" y2="702.95" stroke="#b888c0" stroke-width="1.2" />
<circle cx="62.3" cy="703.12" r="1.9" fill="#b890c0" />
<circle cx="94.5" cy="703.12" r="1.9" fill="#b890c0" />
<circle cx="126.7" cy="703.12" r="1.9" fill="#b890c0" />
<circle cx="191.1" cy="703.12" r="1.9" fill="#b890c0" />
<circle cx="255.5" cy="703.12" r="1.9" fill="#b890c0" />
<line x1="59" y1="548.2" x2="73.6" y2="548.2" stroke="#c585c0" stroke-width="1.1" />
<circle cx="66.3" cy="548.2" r="1.7" fill="#c585c0" />
<text x="75.2" y="550.4" font-size="6" text-anchor="start" fill="#000" font-family="'Liberation Sans', sans-serif" >H<tspan font-size="4" dy="1.5">2</tspan></text>
<line x1="87.8" y1="548.2" x2="101.8" y2="548.2" stroke="#c585c0" stroke-width="1.1" />
<circle cx="94.8" cy="548.2" r="1.4" fill="#c585c0" />
<text x="103.2" y="550.4" font-size="6" text-anchor="start" fill="#000" font-family="'Liberation Sans', sans-serif" >CO</text>
<text x="117.8" y="550.4" font-size="6" text-anchor="start" fill="#000" font-family="'Liberation Sans', sans-serif" >425 nm</text>
<line x1="59" y1="556.8" x2="73.6" y2="556.8" stroke="#e3d444" stroke-width="1.1" />
<circle cx="66.3" cy="556.8" r="1.7" fill="#e3d444" />
<text x="75.2" y="559" font-size="6" text-anchor="start" fill="#000" font-family="'Liberation Sans', sans-serif" >H<tspan font-size="4" dy="1.5">2</tspan></text>
<line x1="87.8" y1="556.8" x2="101.8" y2="556.8" stroke="#e3d444" stroke-width="1.1" />
<circle cx="94.8" cy="556.8" r="1.4" fill="#e3d444" />
<text x="103.2" y="559" font-size="6" text-anchor="start" fill="#000" font-family="'Liberation Sans', sans-serif" >CO</text>
<text x="117.8" y="559" font-size="6" text-anchor="start" fill="#000" font-family="'Liberation Sans', sans-serif" >405 nm</text>
<line x1="59" y1="565.2" x2="73.6" y2="565.2" stroke="#4a6fe0" stroke-width="1.1" />
<circle cx="66.3" cy="565.2" r="1.7" fill="#4a6fe0" />
<text x="75.2" y="567.4" font-size="6" text-anchor="start" fill="#000" font-family="'Liberation Sans', sans-serif" >H<tspan font-size="4" dy="1.5">2</tspan></text>
<line x1="87.8" y1="565.2" x2="101.8" y2="565.2" stroke="#4a6fe0" stroke-width="1.1" />
<circle cx="94.8" cy="565.2" r="1.4" fill="#4a6fe0" />
<text x="103.2" y="567.4" font-size="6" text-anchor="start" fill="#000" font-family="'Liberation Sans', sans-serif" >CO</text>
<text x="117.8" y="567.4" font-size="6" text-anchor="start" fill="#000" font-family="'Liberation Sans', sans-serif" >450 nm</text>
<rect x="352.1" y="613.06" width="14.4" height="96.04" fill="url(#gpe)" />
<rect x="366.8" y="708.26" width="14" height="0.84" fill="#9fd8d8" />
<rect x="423.8" y="557.5" width="14.4" height="151.6" fill="url(#gpe)" />
<rect x="438.5" y="708.26" width="14" height="0.84" fill="#9fd8d8" />
<rect x="495.5" y="656.65" width="14.4" height="52.45" fill="url(#gpe)" />
<rect x="510.2" y="708.26" width="14" height="0.84" fill="#9fd8d8" />
<rect x="330.5" y="541.7" width="208.5" height="167.4" fill="none" stroke="#000" stroke-width="1.2"/>
<line x1="327.3" y1="709.1" x2="330.5" y2="709.1" stroke="#000" stroke-width="1" />
<text x="325.7" y="712.47" font-size="9.5" font-weight="bold" text-anchor="end" fill="#000" font-family="'Liberation Sans', sans-serif" >0</text>
<line x1="327.3" y1="685.15" x2="330.5" y2="685.15" stroke="#000" stroke-width="1" />
<text x="325.7" y="688.52" font-size="9.5" font-weight="bold" text-anchor="end" fill="#000" font-family="'Liberation Sans', sans-serif" >10</text>
<line x1="327.3" y1="661.2" x2="330.5" y2="661.2" stroke="#000" stroke-width="1" />
<text x="325.7" y="664.57" font-size="9.5" font-weight="bold" text-anchor="end" fill="#000" font-family="'Liberation Sans', sans-serif" >20</text>
<line x1="327.3" y1="637.25" x2="330.5" y2="637.25" stroke="#000" stroke-width="1" />
<text x="325.7" y="640.62" font-size="9.5" font-weight="bold" text-anchor="end" fill="#000" font-family="'Liberation Sans', sans-serif" >30</text>
<line x1="327.3" y1="613.3" x2="330.5" y2="613.3" stroke="#000" stroke-width="1" />
<text x="325.7" y="616.67" font-size="9.5" font-weight="bold" text-anchor="end" fill="#000" font-family="'Liberation Sans', sans-serif" >40</text>
<line x1="327.3" y1="589.35" x2="330.5" y2="589.35" stroke="#000" stroke-width="1" />
<text x="325.7" y="592.72" font-size="9.5" font-weight="bold" text-anchor="end" fill="#000" font-family="'Liberation Sans', sans-serif" >50</text>
<line x1="327.3" y1="565.4" x2="330.5" y2="565.4" stroke="#000" stroke-width="1" />
<text x="325.7" y="568.77" font-size="9.5" font-weight="bold" text-anchor="end" fill="#000" font-family="'Liberation Sans', sans-serif" >60</text>
<line x1="327.3" y1="541.45" x2="330.5" y2="541.45" stroke="#000" stroke-width="1" />
<text x="325.7" y="544.82" font-size="9.5" font-weight="bold" text-anchor="end" fill="#000" font-family="'Liberation Sans', sans-serif" >70</text>
<line x1="328.7" y1="697.12" x2="330.5" y2="697.12" stroke="#000" stroke-width="0.9" />
<line x1="328.7" y1="673.18" x2="330.5" y2="673.18" stroke="#000" stroke-width="0.9" />
<line x1="328.7" y1="649.23" x2="330.5" y2="649.23" stroke="#000" stroke-width="0.9" />
<line x1="328.7" y1="625.27" x2="330.5" y2="625.27" stroke="#000" stroke-width="0.9" />
<line x1="328.7" y1="601.33" x2="330.5" y2="601.33" stroke="#000" stroke-width="0.9" />
<line x1="328.7" y1="577.38" x2="330.5" y2="577.38" stroke="#000" stroke-width="0.9" />
<line x1="328.7" y1="553.42" x2="330.5" y2="553.42" stroke="#000" stroke-width="0.9" />
<line x1="366.5" y1="709.1" x2="366.5" y2="712.3" stroke="#000" stroke-width="1" />
<text x="366.5" y="722.4" font-size="9.5" font-weight="bold" text-anchor="middle" fill="#000" font-family="'Liberation Sans', sans-serif" >405 nm</text>
<line x1="438.2" y1="709.1" x2="438.2" y2="712.3" stroke="#000" stroke-width="1" />
<text x="438.2" y="722.4" font-size="9.5" font-weight="bold" text-anchor="middle" fill="#000" font-family="'Liberation Sans', sans-serif" >425 nm</text>
<line x1="509.9" y1="709.1" x2="509.9" y2="712.3" stroke="#000" stroke-width="1" />
<text x="509.9" y="722.4" font-size="9.5" font-weight="bold" text-anchor="middle" fill="#000" font-family="'Liberation Sans', sans-serif" >450 nm</text>
<text transform="translate(311.6,625.2) rotate(-90)" font-size="8.4" font-weight="bold" text-anchor="middle" font-family="'Liberation Sans', sans-serif" fill="#000"><tspan font-style="italic">&#934;</tspan> (%)</text>
<rect x="491.9" y="546.4" width="18.5" height="5.6" fill="#bdaeee" />
<rect x="491.9" y="556" width="18.5" height="7.6" fill="url(#gteal)" />
<text x="513.2" y="553.7" font-size="9.2" text-anchor="start" fill="#000" font-family="'Liberation Sans', sans-serif" >CO</text>
<text x="513.2" y="564.3" font-size="9.2" text-anchor="start" fill="#000" font-family="'Liberation Sans', sans-serif" >H<tspan font-size="6" dy="2">2</tspan></text>
<path d="M80.9,69.4L79.96,75.33M84.1,66.2L90.03,65.26M79.96,75.33L87.8,79.32M90.03,65.26L94.02,73.1M87.8,79.32L94.02,73.1M87.8,79.32L90.08,87.82M90.08,87.82L98.58,90.1M98.58,90.1L104.8,83.88M104.8,83.88L102.52,75.38M102.52,75.38L94.02,73.1M79.96,75.33L74.53,77.89M64.04,75.33L69.47,77.89M59.9,66.2L53.97,65.26M63.1,69.4L64.04,75.33M53.97,65.26L49.98,73.1M64.04,75.33L56.2,79.32M49.98,73.1L56.2,79.32M49.98,73.1L41.48,75.38M41.48,75.38L39.2,83.88M39.2,83.88L45.42,90.1M45.42,90.1L53.92,87.82M53.92,87.82L56.2,79.32M53.97,65.26L51.41,59.83M53.97,49.34L51.41,54.77M63.1,45.2L64.04,39.27M59.9,48.4L53.97,49.34M64.04,39.27L56.2,35.28M53.97,49.34L49.98,41.5M56.2,35.28L49.98,41.5M56.2,35.28L53.92,26.78M53.92,26.78L45.42,24.5M45.42,24.5L39.2,30.72M39.2,30.72L41.48,39.22M41.48,39.22L49.98,41.5M64.04,39.27L69.47,36.71M79.96,39.27L74.53,36.71M84.1,48.4L90.03,49.34M80.9,45.2L79.96,39.27M90.03,49.34L94.02,41.5M79.96,39.27L87.8,35.28M94.02,41.5L87.8,35.28M94.02,41.5L102.52,39.22M102.52,39.22L104.8,30.72M104.8,30.72L98.58,24.5M98.58,24.5L90.08,26.78M90.08,26.78L87.8,35.28M90.03,49.34L92.59,54.77M90.03,65.26L92.59,59.83M92.05,86.59L97.49,88.05M102.75,82.79L101.29,77.35M90.12,79.4L94.1,75.42M77.8,74.46L72.71,76.87M42.71,77.35L41.25,82.79M46.51,88.05L51.95,86.59M49.9,75.42L53.88,79.4M54.84,63.1L52.43,58.01M51.95,28.01L46.51,26.55M41.25,31.81L42.71,37.25M53.88,35.2L49.9,39.18M66.2,40.14L71.29,37.73M101.29,37.25L102.75,31.81M97.49,26.55L92.05,28.01M94.1,39.18L90.12,35.2M89.16,51.5L91.57,56.59M74.4,59.7L79.35,64.65M69.6,59.7L64.65,64.65M69.6,54.9L64.65,49.95M74.4,54.9L79.35,49.95" stroke="#cba548" stroke-width="1.6" fill="none" stroke-linecap="round"/>
<text x="81.33" y="68.72" font-size="5.8" text-anchor="middle" fill="#cba548" font-family="'Liberation Sans', sans-serif" >N</text>
<text x="62.67" y="68.72" font-size="5.8" text-anchor="middle" fill="#cba548" font-family="'Liberation Sans', sans-serif" >N</text>
<text x="62.67" y="50.05" font-size="5.8" text-anchor="middle" fill="#cba548" font-family="'Liberation Sans', sans-serif" >N</text>
<text x="81.33" y="50.05" font-size="5.8" text-anchor="middle" fill="#cba548" font-family="'Liberation Sans', sans-serif" >N</text>
<text x="72" y="81.17" font-size="5.8" text-anchor="middle" fill="#cba548" font-family="'Liberation Sans', sans-serif" >N</text>
<text x="50.22" y="59.39" font-size="5.8" text-anchor="middle" fill="#cba548" font-family="'Liberation Sans', sans-serif" >N</text>
<text x="72" y="37.61" font-size="5.8" text-anchor="middle" fill="#cba548" font-family="'Liberation Sans', sans-serif" >N</text>
<text x="93.78" y="59.39" font-size="5.8" text-anchor="middle" fill="#cba548" font-family="'Liberation Sans', sans-serif" >N</text>
<text x="72" y="59.4" font-size="5.8" text-anchor="middle" fill="#cba548" font-family="'Liberation Sans', sans-serif" >Co</text>
<line x1="45.42" y1="24.5" x2="39.53" y2="22.96" stroke="#cba548" stroke-width="1.1" />
<text x="37.4" y="24.52" font-size="5.9" text-anchor="middle" fill="#cba548" font-family="'Liberation Sans', sans-serif" >S</text>
<line x1="35.76" y1="20.68" x2="29.88" y2="18.07" stroke="#cba548" stroke-width="0.9" />
<line x1="35.02" y1="22.33" x2="29.14" y2="19.72" stroke="#cba548" stroke-width="0.9" />
<text x="27.5" y="20.12" font-size="5.9" text-anchor="middle" fill="#cba548" font-family="'Liberation Sans', sans-serif" >O</text>
<line x1="35.18" y1="23.24" x2="28.5" y2="29.44" stroke="#cba548" stroke-width="0.9" />
<line x1="36.4" y1="24.56" x2="29.72" y2="30.76" stroke="#cba548" stroke-width="0.9" />
<text x="27.5" y="33.72" font-size="5.9" text-anchor="middle" fill="#cba548" font-family="'Liberation Sans', sans-serif" >O</text>
<line x1="38.5" y1="20.5" x2="41.29" y2="15.69" stroke="#cba548" stroke-width="1" />
<text x="42.8" y="15.22" font-size="5.9" text-anchor="middle" fill="#cba548" font-family="'Liberation Sans', sans-serif" >OH</text>
<line x1="98.58" y1="24.5" x2="104.08" y2="22.98" stroke="#cba548" stroke-width="1.1" />
<text x="106.2" y="24.52" font-size="5.9" text-anchor="middle" fill="#cba548" font-family="'Liberation Sans', sans-serif" >S</text>
<line x1="105.49" y1="20.13" x2="101" y2="14.72" stroke="#cba548" stroke-width="0.9" />
<line x1="104.1" y1="21.28" x2="99.61" y2="15.87" stroke="#cba548" stroke-width="0.9" />
<text x="98.9" y="15.72" font-size="5.9" text-anchor="middle" fill="#cba548" font-family="'Liberation Sans', sans-serif" >O</text>
<line x1="108.07" y1="20.93" x2="111.19" y2="15.46" stroke="#cba548" stroke-width="0.9" />
<line x1="106.51" y1="20.04" x2="109.63" y2="14.57" stroke="#cba548" stroke-width="0.9" />
<text x="111.5" y="15.22" font-size="5.9" text-anchor="middle" fill="#cba548" font-family="'Liberation Sans', sans-serif" >O</text>
<line x1="108.29" y1="23.07" x2="115.14" y2="25.28" stroke="#cba548" stroke-width="1" />
<text x="118" y="28.32" font-size="5.9" text-anchor="middle" fill="#cba548" font-family="'Liberation Sans', sans-serif" >OH</text>
<line x1="45.42" y1="90.1" x2="39.44" y2="92.48" stroke="#cba548" stroke-width="1.1" />
<text x="37.4" y="95.42" font-size="5.9" text-anchor="middle" fill="#cba548" font-family="'Liberation Sans', sans-serif" >S</text>
<line x1="35.57" y1="94.81" x2="33.25" y2="99.14" stroke="#cba548" stroke-width="0.9" />
<line x1="37.15" y1="95.66" x2="34.83" y2="99.99" stroke="#cba548" stroke-width="0.9" />
<text x="33" y="103.62" font-size="5.9" text-anchor="middle" fill="#cba548" font-family="'Liberation Sans', sans-serif" >O</text>
<line x1="38.31" y1="95.5" x2="43.31" y2="100.57" stroke="#cba548" stroke-width="0.9" />
<line x1="39.59" y1="94.23" x2="44.59" y2="99.3" stroke="#cba548" stroke-width="0.9" />
<text x="45.5" y="103.62" font-size="5.9" text-anchor="middle" fill="#cba548" font-family="'Liberation Sans', sans-serif" >O</text>
<line x1="35.32" y1="92.59" x2="28.24" y2="90.17" stroke="#cba548" stroke-width="1" />
<text x="25.4" y="91.32" font-size="5.9" text-anchor="middle" fill="#cba548" font-family="'Liberation Sans', sans-serif" >HO</text>
<line x1="104.8" y1="83.88" x2="106.55" y2="89.5" stroke="#cba548" stroke-width="1.1" />
<text x="107.2" y="93.72" font-size="5.9" text-anchor="middle" fill="#cba548" font-family="'Liberation Sans', sans-serif" >S</text>
<line x1="109.42" y1="90.76" x2="114.9" y2="85.66" stroke="#cba548" stroke-width="0.9" />
<line x1="108.2" y1="89.44" x2="113.68" y2="84.34" stroke="#cba548" stroke-width="0.9" />
<text x="115.9" y="85.62" font-size="5.9" text-anchor="middle" fill="#cba548" font-family="'Liberation Sans', sans-serif" >O</text>
<line x1="108.64" y1="93.49" x2="114.15" y2="96.75" stroke="#cba548" stroke-width="0.9" />
<line x1="109.55" y1="91.95" x2="115.06" y2="95.21" stroke="#cba548" stroke-width="0.9" />
<text x="116.5" y="99.22" font-size="5.9" text-anchor="middle" fill="#cba548" font-family="'Liberation Sans', sans-serif" >O</text>
<line x1="106.17" y1="93.54" x2="103.1" y2="99.35" stroke="#cba548" stroke-width="1" />
<text x="101.7" y="104.12" font-size="5.9" text-anchor="middle" fill="#cba548" font-family="'Liberation Sans', sans-serif" >HO</text>
<path d="M195.9,69.1L194.96,75.03M199.1,65.9L205.03,64.96M194.96,75.03L202.8,79.02M205.03,64.96L209.02,72.8M202.8,79.02L209.02,72.8M202.8,79.02L205.08,87.52M205.08,87.52L213.58,89.8M213.58,89.8L219.8,83.58M219.8,83.58L217.52,75.08M217.52,75.08L209.02,72.8M194.96,75.03L189.53,77.59M179.04,75.03L184.47,77.59M174.9,65.9L168.97,64.96M178.1,69.1L179.04,75.03M168.97,64.96L164.98,72.8M179.04,75.03L171.2,79.02M164.98,72.8L171.2,79.02M164.98,72.8L156.48,75.08M156.48,75.08L154.2,83.58M154.2,83.58L160.42,89.8M160.42,89.8L168.92,87.52M168.92,87.52L171.2,79.02M168.97,64.96L166.41,59.53M168.97,49.04L166.41,54.47M178.1,44.9L179.04,38.97M174.9,48.1L168.97,49.04M179.04,38.97L171.2,34.98M168.97,49.04L164.98,41.2M171.2,34.98L164.98,41.2M171.2,34.98L168.92,26.48M168.92,26.48L160.42,24.2M160.42,24.2L154.2,30.42M154.2,30.42L156.48,38.92M156.48,38.92L164.98,41.2M179.04,38.97L184.47,36.41M194.96,38.97L189.53,36.41M199.1,48.1L205.03,49.04M195.9,44.9L194.96,38.97M205.03,49.04L209.02,41.2M194.96,38.97L202.8,34.98M209.02,41.2L202.8,34.98M209.02,41.2L217.52,38.92M217.52,38.92L219.8,30.42M219.8,30.42L213.58,24.2M213.58,24.2L205.08,26.48M205.08,26.48L202.8,34.98M205.03,49.04L207.59,54.47M205.03,64.96L207.59,59.53M207.05,86.29L212.49,87.75M217.75,82.49L216.29,77.05M205.12,79.1L209.1,75.12M192.8,74.16L187.71,76.57M157.71,77.05L156.25,82.49M161.51,87.75L166.95,86.29M164.9,75.12L168.88,79.1M169.84,62.8L167.43,57.71M166.95,27.71L161.51,26.25M156.25,31.51L157.71,36.95M168.88,34.9L164.9,38.88M181.2,39.84L186.29,37.43M216.29,36.95L217.75,31.51M212.49,26.25L207.05,27.71M209.1,38.88L205.12,34.9M204.16,51.2L206.57,56.29M189.4,59.4L194.35,64.35M184.6,59.4L179.65,64.35M184.6,54.6L179.65,49.65M189.4,54.6L194.35,49.65" stroke="#b04a36" stroke-width="1.6" fill="none" stroke-linecap="round"/>
<text x="196.33" y="68.42" font-size="5.8" text-anchor="middle" fill="#b04a36" font-family="'Liberation Sans', sans-serif" >N</text>
<text x="177.67" y="68.42" font-size="5.8" text-anchor="middle" fill="#b04a36" font-family="'Liberation Sans', sans-serif" >N</text>
<text x="177.67" y="49.75" font-size="5.8" text-anchor="middle" fill="#b04a36" font-family="'Liberation Sans', sans-serif" >N</text>
<text x="196.33" y="49.75" font-size="5.8" text-anchor="middle" fill="#b04a36" font-family="'Liberation Sans', sans-serif" >N</text>
<text x="187" y="80.87" font-size="5.8" text-anchor="middle" fill="#b04a36" font-family="'Liberation Sans', sans-serif" >N</text>
<text x="165.22" y="59.09" font-size="5.8" text-anchor="middle" fill="#b04a36" font-family="'Liberation Sans', sans-serif" >N</text>
<text x="187" y="37.31" font-size="5.8" text-anchor="middle" fill="#b04a36" font-family="'Liberation Sans', sans-serif" >N</text>
<text x="208.78" y="59.09" font-size="5.8" text-anchor="middle" fill="#b04a36" font-family="'Liberation Sans', sans-serif" >N</text>
<text x="187" y="59.1" font-size="5.8" text-anchor="middle" fill="#b04a36" font-family="'Liberation Sans', sans-serif" >Co</text>
<line x1="154.2" y1="30.42" x2="153.6" y2="23.6" stroke="#b04a36" stroke-width="1.1" />
<line x1="154.48" y1="23.78" x2="155.95" y2="16.43" stroke="#b04a36" stroke-width="0.9" />
<line x1="152.72" y1="23.42" x2="154.19" y2="16.08" stroke="#b04a36" stroke-width="0.9" />
<text x="155.5" y="16.22" font-size="5.9" text-anchor="middle" fill="#b04a36" font-family="'Liberation Sans', sans-serif" >O</text>
<line x1="153.6" y1="23.6" x2="145.85" y2="24.95" stroke="#b04a36" stroke-width="1" />
<text x="142.7" y="27.62" font-size="5.9" text-anchor="middle" fill="#b04a36" font-family="'Liberation Sans', sans-serif" >HO</text>
<line x1="213.58" y1="24.2" x2="221.4" y2="21.8" stroke="#b04a36" stroke-width="1.1" />
<line x1="221.08" y1="22.64" x2="226.22" y2="24.57" stroke="#b04a36" stroke-width="0.9" />
<line x1="221.72" y1="20.96" x2="226.86" y2="22.88" stroke="#b04a36" stroke-width="0.9" />
<text x="228.6" y="26.62" font-size="5.9" text-anchor="middle" fill="#b04a36" font-family="'Liberation Sans', sans-serif" >O</text>
<line x1="221.4" y1="21.8" x2="218.14" y2="16.78" stroke="#b04a36" stroke-width="1" />
<text x="216.4" y="16.22" font-size="5.9" text-anchor="middle" fill="#b04a36" font-family="'Liberation Sans', sans-serif" >HO</text>
<line x1="160.42" y1="89.8" x2="151" y2="95" stroke="#b04a36" stroke-width="1.1" />
<line x1="151.59" y1="94.32" x2="146.26" y2="89.75" stroke="#b04a36" stroke-width="0.9" />
<line x1="150.41" y1="95.68" x2="145.08" y2="91.12" stroke="#b04a36" stroke-width="0.9" />
<text x="144" y="91.12" font-size="5.9" text-anchor="middle" fill="#b04a36" font-family="'Liberation Sans', sans-serif" >O</text>
<line x1="151" y1="95" x2="154.64" y2="98.34" stroke="#b04a36" stroke-width="1" />
<text x="157" y="102.62" font-size="5.9" text-anchor="middle" fill="#b04a36" font-family="'Liberation Sans', sans-serif" >OH</text>
<line x1="213.58" y1="89.8" x2="219" y2="92" stroke="#b04a36" stroke-width="1.1" />
<line x1="218.1" y1="92" x2="218.1" y2="97.3" stroke="#b04a36" stroke-width="0.9" />
<line x1="219.9" y1="92" x2="219.9" y2="97.3" stroke="#b04a36" stroke-width="0.9" />
<text x="219" y="101.62" font-size="5.9" text-anchor="middle" fill="#b04a36" font-family="'Liberation Sans', sans-serif" >O</text>
<line x1="219" y1="92" x2="227.45" y2="89.36" stroke="#b04a36" stroke-width="1" />
<text x="230.5" y="90.52" font-size="5.9" text-anchor="middle" fill="#b04a36" font-family="'Liberation Sans', sans-serif" >OH</text>
<path d="M301.4,69.4L300.46,75.33M304.6,66.2L310.53,65.26M300.46,75.33L308.3,79.32M310.53,65.26L314.52,73.1M308.3,79.32L314.52,73.1M308.3,79.32L310.58,87.82M310.58,87.82L319.08,90.1M319.08,90.1L325.3,83.88M325.3,83.88L323.02,75.38M323.02,75.38L314.52,73.1M300.46,75.33L295.03,77.89M284.54,75.33L289.97,77.89M280.4,66.2L274.47,65.26M283.6,69.4L284.54,75.33M274.47,65.26L270.48,73.1M284.54,75.33L276.7,79.32M270.48,73.1L276.7,79.32M270.48,73.1L261.98,75.38M261.98,75.38L259.7,83.88M259.7,83.88L265.92,90.1M265.92,90.1L274.42,87.82M274.42,87.82L276.7,79.32M274.47,65.26L271.91,59.83M274.47,49.34L271.91,54.77M283.6,45.2L284.54,39.27M280.4,48.4L274.47,49.34M284.54,39.27L276.7,35.28M274.47,49.34L270.48,41.5M276.7,35.28L270.48,41.5M276.7,35.28L274.42,26.78M274.42,26.78L265.92,24.5M265.92,24.5L259.7,30.72M259.7,30.72L261.98,39.22M261.98,39.22L270.48,41.5M284.54,39.27L289.97,36.71M300.46,39.27L295.03,36.71M304.6,48.4L310.53,49.34M301.4,45.2L300.46,39.27M310.53,49.34L314.52,41.5M300.46,39.27L308.3,35.28M314.52,41.5L308.3,35.28M314.52,41.5L323.02,39.22M323.02,39.22L325.3,30.72M325.3,30.72L319.08,24.5M319.08,24.5L310.58,26.78M310.58,26.78L308.3,35.28M310.53,49.34L313.09,54.77M310.53,65.26L313.09,59.83M312.55,86.59L317.99,88.05M323.25,82.79L321.79,77.35M310.62,79.4L314.6,75.42M298.3,74.46L293.21,76.87M263.21,77.35L261.75,82.79M267.01,88.05L272.45,86.59M270.4,75.42L274.38,79.4M275.34,63.1L272.93,58.01M272.45,28.01L267.01,26.55M261.75,31.81L263.21,37.25M274.38,35.2L270.4,39.18M286.7,40.14L291.79,37.73M321.79,37.25L323.25,31.81M317.99,26.55L312.55,28.01M314.6,39.18L310.62,35.2M309.66,51.5L312.07,56.59M294.9,59.7L299.85,64.65M290.1,59.7L285.15,64.65M290.1,54.9L285.15,49.95M294.9,54.9L299.85,49.95" stroke="#8a46e4" stroke-width="1.6" fill="none" stroke-linecap="round"/>
<text x="301.83" y="68.72" font-size="5.8" text-anchor="middle" fill="#8a46e4" font-family="'Liberation Sans', sans-serif" >N</text>
<text x="283.17" y="68.72" font-size="5.8" text-anchor="middle" fill="#8a46e4" font-family="'Liberation Sans', sans-serif" >N</text>
<text x="283.17" y="50.05" font-size="5.8" text-anchor="middle" fill="#8a46e4" font-family="'Liberation Sans', sans-serif" >N</text>
<text x="301.83" y="50.05" font-size="5.8" text-anchor="middle" fill="#8a46e4" font-family="'Liberation Sans', sans-serif" >N</text>
<text x="292.5" y="81.17" font-size="5.8" text-anchor="middle" fill="#8a46e4" font-family="'Liberation Sans', sans-serif" >N</text>
<text x="270.72" y="59.39" font-size="5.8" text-anchor="middle" fill="#8a46e4" font-family="'Liberation Sans', sans-serif" >N</text>
<text x="292.5" y="37.61" font-size="5.8" text-anchor="middle" fill="#8a46e4" font-family="'Liberation Sans', sans-serif" >N</text>
<text x="314.28" y="59.39" font-size="5.8" text-anchor="middle" fill="#8a46e4" font-family="'Liberation Sans', sans-serif" >N</text>
<text x="292.5" y="59.4" font-size="5.8" text-anchor="middle" fill="#8a46e4" font-family="'Liberation Sans', sans-serif" >Co</text>
<path d="M403.5,70.9L402.56,76.83M406.7,67.7L412.63,66.76M402.56,76.83L410.4,80.82M412.63,66.76L416.62,74.6M410.4,80.82L416.62,74.6M410.4,80.82L412.68,89.32M412.68,89.32L421.18,91.6M421.18,91.6L427.4,85.38M427.4,85.38L425.12,76.88M425.12,76.88L416.62,74.6M402.56,76.83L397.13,79.39M386.64,76.83L392.07,79.39M382.5,67.7L376.57,66.76M385.7,70.9L386.64,76.83M376.57,66.76L372.58,74.6M386.64,76.83L378.8,80.82M372.58,74.6L378.8,80.82M372.58,74.6L364.08,76.88M364.08,76.88L361.8,85.38M361.8,85.38L368.02,91.6M368.02,91.6L376.52,89.32M376.52,89.32L378.8,80.82M376.57,66.76L374.01,61.33M376.57,50.84L374.01,56.27M385.7,46.7L386.64,40.77M382.5,49.9L376.57,50.84M386.64,40.77L378.8,36.78M376.57,50.84L372.58,43M378.8,36.78L372.58,43M378.8,36.78L376.52,28.28M376.52,28.28L368.02,26M368.02,26L361.8,32.22M361.8,32.22L364.08,40.72M364.08,40.72L372.58,43M386.64,40.77L392.07,38.21M402.56,40.77L397.13,38.21M406.7,49.9L412.63,50.84M403.5,46.7L402.56,40.77M412.63,50.84L416.62,43M402.56,40.77L410.4,36.78M416.62,43L410.4,36.78M416.62,43L425.12,40.72M425.12,40.72L427.4,32.22M427.4,32.22L421.18,26M421.18,26L412.68,28.28M412.68,28.28L410.4,36.78M412.63,50.84L415.19,56.27M412.63,66.76L415.19,61.33M414.65,88.09L420.09,89.55M425.35,84.29L423.89,78.85M412.72,80.9L416.7,76.92M400.4,75.96L395.31,78.37M365.31,78.85L363.85,84.29M369.11,89.55L374.55,88.09M372.5,76.92L376.48,80.9M377.44,64.6L375.03,59.51M374.55,29.51L369.11,28.05M363.85,33.31L365.31,38.75M376.48,36.7L372.5,40.68M388.8,41.64L393.89,39.23M423.89,38.75L425.35,33.31M420.09,28.05L414.65,29.51M416.7,40.68L412.72,36.7M411.76,53L414.17,58.09M397,61.2L401.95,66.15M392.2,61.2L387.25,66.15M392.2,56.4L387.25,51.45M397,56.4L401.95,51.45" stroke="#3434d0" stroke-width="1.6" fill="none" stroke-linecap="round"/>
<text x="403.93" y="70.22" font-size="5.8" text-anchor="middle" fill="#3434d0" font-family="'Liberation Sans', sans-serif" >N</text>
<text x="385.27" y="70.22" font-size="5.8" text-anchor="middle" fill="#3434d0" font-family="'Liberation Sans', sans-serif" >N</text>
<text x="385.27" y="51.55" font-size="5.8" text-anchor="middle" fill="#3434d0" font-family="'Liberation Sans', sans-serif" >N</text>
<text x="403.93" y="51.55" font-size="5.8" text-anchor="middle" fill="#3434d0" font-family="'Liberation Sans', sans-serif" >N</text>
<text x="394.6" y="82.67" font-size="5.8" text-anchor="middle" fill="#3434d0" font-family="'Liberation Sans', sans-serif" >N</text>
<text x="372.82" y="60.89" font-size="5.8" text-anchor="middle" fill="#3434d0" font-family="'Liberation Sans', sans-serif" >N</text>
<text x="394.6" y="39.11" font-size="5.8" text-anchor="middle" fill="#3434d0" font-family="'Liberation Sans', sans-serif" >N</text>
<text x="416.38" y="60.89" font-size="5.8" text-anchor="middle" fill="#3434d0" font-family="'Liberation Sans', sans-serif" >N</text>
<text x="394.6" y="60.9" font-size="5.8" text-anchor="middle" fill="#3434d0" font-family="'Liberation Sans', sans-serif" >Co</text>
<line x1="368.02" y1="26" x2="362.9" y2="24.48" stroke="#3434d0" stroke-width="1.2" />
<text x="362.2" y="26.4" font-size="5.8" text-anchor="end" fill="#3434d0" font-family="'Liberation Sans', sans-serif" >H<tspan font-size="4.2" dy="1.5">2</tspan><tspan dy="-1.5">N</tspan></text>
<line x1="421.18" y1="26" x2="426.3" y2="24.48" stroke="#3434d0" stroke-width="1.2" />
<text x="427" y="26.4" font-size="5.8" text-anchor="start" fill="#3434d0" font-family="'Liberation Sans', sans-serif" >NH<tspan font-size="4.2" dy="1.5">2</tspan></text>
<line x1="361.8" y1="85.38" x2="361.02" y2="89.84" stroke="#3434d0" stroke-width="1.2" />
<text x="362.2" y="94.8" font-size="5.8" text-anchor="end" fill="#3434d0" font-family="'Liberation Sans', sans-serif" >H<tspan font-size="4.2" dy="1.5">2</tspan><tspan dy="-1.5">N</tspan></text>
<line x1="427.4" y1="85.38" x2="428.18" y2="89.84" stroke="#3434d0" stroke-width="1.2" />
<text x="427" y="94.8" font-size="5.8" text-anchor="start" fill="#3434d0" font-family="'Liberation Sans', sans-serif" >NH<tspan font-size="4.2" dy="1.5">2</tspan></text>
<path d="M511,68.1L510.06,74.03M514.2,64.9L520.13,63.96M510.06,74.03L517.9,78.02M520.13,63.96L524.12,71.8M517.9,78.02L524.12,71.8M517.9,78.02L520.18,86.52M520.18,86.52L528.68,88.8M528.68,88.8L534.9,82.58M534.9,82.58L532.62,74.08M532.62,74.08L524.12,71.8M510.06,74.03L504.63,76.59M494.14,74.03L499.57,76.59M490,64.9L484.07,63.96M493.2,68.1L494.14,74.03M484.07,63.96L480.08,71.8M494.14,74.03L486.3,78.02M480.08,71.8L486.3,78.02M480.08,71.8L471.58,74.08M471.58,74.08L469.3,82.58M469.3,82.58L475.52,88.8M475.52,88.8L484.02,86.52M484.02,86.52L486.3,78.02M484.07,63.96L481.51,58.53M484.07,48.04L481.51,53.47M493.2,43.9L494.14,37.97M490,47.1L484.07,48.04M494.14,37.97L486.3,33.98M484.07,48.04L480.08,40.2M486.3,33.98L480.08,40.2M486.3,33.98L484.02,25.48M484.02,25.48L475.52,23.2M475.52,23.2L469.3,29.42M469.3,29.42L471.58,37.92M471.58,37.92L480.08,40.2M494.14,37.97L499.57,35.41M510.06,37.97L504.63,35.41M514.2,47.1L520.13,48.04M511,43.9L510.06,37.97M520.13,48.04L524.12,40.2M510.06,37.97L517.9,33.98M524.12,40.2L517.9,33.98M524.12,40.2L532.62,37.92M532.62,37.92L534.9,29.42M534.9,29.42L528.68,23.2M528.68,23.2L520.18,25.48M520.18,25.48L517.9,33.98M520.13,48.04L522.69,53.47M520.13,63.96L522.69,58.53M522.15,85.29L527.59,86.75M532.85,81.49L531.39,76.05M520.22,78.1L524.2,74.12M507.9,73.16L502.81,75.57M472.81,76.05L471.35,81.49M476.61,86.75L482.05,85.29M480,74.12L483.98,78.1M484.94,61.8L482.53,56.71M482.05,26.71L476.61,25.25M471.35,30.51L472.81,35.95M483.98,33.9L480,37.88M496.3,38.84L501.39,36.43M531.39,35.95L532.85,30.51M527.59,25.25L522.15,26.71M524.2,37.88L520.22,33.9M519.26,50.2L521.67,55.29M504.5,58.4L509.45,63.35M499.7,58.4L494.75,63.35M499.7,53.6L494.75,48.65M504.5,53.6L509.45,48.65" stroke="#478647" stroke-width="1.6" fill="none" stroke-linecap="round"/>
<text x="511.43" y="67.42" font-size="5.8" text-anchor="middle" fill="#478647" font-family="'Liberation Sans', sans-serif" >N</text>
<text x="492.77" y="67.42" font-size="5.8" text-anchor="middle" fill="#478647" font-family="'Liberation Sans', sans-serif" >N</text>
<text x="492.77" y="48.75" font-size="5.8" text-anchor="middle" fill="#478647" font-family="'Liberation Sans', sans-serif" >N</text>
<text x="511.43" y="48.75" font-size="5.8" text-anchor="middle" fill="#478647" font-family="'Liberation Sans', sans-serif" >N</text>
<text x="502.1" y="79.87" font-size="5.8" text-anchor="middle" fill="#478647" font-family="'Liberation Sans', sans-serif" >N</text>
<text x="480.32" y="58.09" font-size="5.8" text-anchor="middle" fill="#478647" font-family="'Liberation Sans', sans-serif" >N</text>
<text x="502.1" y="36.31" font-size="5.8" text-anchor="middle" fill="#478647" font-family="'Liberation Sans', sans-serif" >N</text>
<text x="523.88" y="58.09" font-size="5.8" text-anchor="middle" fill="#478647" font-family="'Liberation Sans', sans-serif" >N</text>
<text x="502.1" y="58.1" font-size="5.8" text-anchor="middle" fill="#478647" font-family="'Liberation Sans', sans-serif" >Co</text>
<line x1="469.3" y1="29.42" x2="467.68" y2="23.52" stroke="#478647" stroke-width="1.1" />
<text x="467.1" y="23.52" font-size="5.9" text-anchor="middle" fill="#478647" font-family="'Liberation Sans', sans-serif" >N</text>
<line x1="467.78" y1="19.31" x2="470.5" y2="11" stroke="#478647" stroke-width="1.1" />
<line x1="465.1" y1="22.31" x2="457.6" y2="25.7" stroke="#478647" stroke-width="1.1" />
<line x1="528.68" y1="23.2" x2="534.06" y2="21.91" stroke="#478647" stroke-width="1.1" />
<text x="536.2" y="23.52" font-size="5.9" text-anchor="middle" fill="#478647" font-family="'Liberation Sans', sans-serif" >N</text>
<line x1="535.5" y1="19.31" x2="532.7" y2="11" stroke="#478647" stroke-width="1.1" />
<line x1="538.33" y1="21.94" x2="546.5" y2="24" stroke="#478647" stroke-width="1.1" />
<line x1="469.3" y1="82.58" x2="468.4" y2="87.44" stroke="#478647" stroke-width="1.1" />
<text x="468" y="91.72" font-size="5.9" text-anchor="middle" fill="#478647" font-family="'Liberation Sans', sans-serif" >N</text>
<line x1="466.07" y1="90.66" x2="458.5" y2="94.8" stroke="#478647" stroke-width="1.1" />
<line x1="468.84" y1="91.63" x2="472.3" y2="100" stroke="#478647" stroke-width="1.1" />
<line x1="534.9" y1="82.58" x2="536.37" y2="87.49" stroke="#478647" stroke-width="1.1" />
<text x="537" y="91.72" font-size="5.9" text-anchor="middle" fill="#478647" font-family="'Liberation Sans', sans-serif" >N</text>
<line x1="539.07" y1="88.86" x2="546.5" y2="86.2" stroke="#478647" stroke-width="1.1" />
<line x1="536.32" y1="91.69" x2="533.6" y2="100" stroke="#478647" stroke-width="1.1" />
<text x="72.7" y="128.1" font-size="15.3" font-weight="bold" text-anchor="middle" fill="#c4963a" font-family="'Liberation Sans', sans-serif" >CoTSPc</text>
<text x="187.6" y="128.1" font-size="15.3" font-weight="bold" text-anchor="middle" fill="#a32b1b" font-family="'Liberation Sans', sans-serif" >CoTCPc</text>
<text x="293" y="128.1" font-size="15.3" font-weight="bold" text-anchor="middle" fill="#8a2fe0" font-family="'Liberation Sans', sans-serif" >CoPc</text>
<text x="395.4" y="128.1" font-size="15.3" font-weight="bold" text-anchor="middle" fill="#1c1cc2" font-family="'Liberation Sans', sans-serif" >CoTAPc</text>
<text x="502.5" y="128.1" font-size="15.3" font-weight="bold" text-anchor="middle" fill="#2d7a3c" font-family="'Liberation Sans', sans-serif" >CoTDMAPc</text>
<path d="M27.4,157.6 L49.5,137.8 L49.5,148.2 L512.2,148.2 L512.2,138.2 L535.5,157.6 L512.2,176.6 L512.2,167.3 L49.5,167.3 L49.5,176.6 Z" fill="url(#garr)"/>
<text x="178.8" y="163.4" font-size="15" font-weight="bold" text-anchor="middle" fill="#fde6e6" font-family="'Liberation Serif', serif" >electron-withdrawing</text>
<text x="403.1" y="163.4" font-size="15" font-weight="bold" text-anchor="middle" fill="#eefaf6" font-family="'Liberation Serif', serif" >electron-donating</text>
<path d="M74.04,229.44L73.02,235.86M74.04,229.44L80.46,228.42M73.02,235.86L78.81,238.81M80.46,228.42L83.41,234.21M78.81,238.81L83.41,234.21M78.81,238.81L80.49,245.09M80.49,245.09L86.77,246.77M86.77,246.77L91.37,242.17M91.37,242.17L89.69,235.89M89.69,235.89L83.41,234.21M73.02,235.86L68.2,240.22M63.38,235.86L68.2,240.22M68.2,223.6L74.04,229.44M62.36,229.44L55.94,228.42M62.36,229.44L63.38,235.86M55.94,228.42L52.99,234.21M63.38,235.86L57.59,238.81M52.99,234.21L57.59,238.81M52.99,234.21L46.71,235.89M46.71,235.89L45.03,242.17M45.03,242.17L49.63,246.77M49.63,246.77L55.91,245.09M55.91,245.09L57.59,238.81M55.94,228.42L51.58,223.6M55.94,218.78L51.58,223.6M68.2,223.6L62.36,229.44M62.36,217.76L63.38,211.34M62.36,217.76L55.94,218.78M63.38,211.34L57.59,208.39M55.94,218.78L52.99,212.99M57.59,208.39L52.99,212.99M57.59,208.39L55.91,202.11M55.91,202.11L49.63,200.43M49.63,200.43L45.03,205.03M45.03,205.03L46.71,211.31M46.71,211.31L52.99,212.99M63.38,211.34L68.2,206.98M73.02,211.34L68.2,206.98M68.2,223.6L62.36,217.76M74.04,217.76L80.46,218.78M74.04,217.76L73.02,211.34M80.46,218.78L83.41,212.99M73.02,211.34L78.81,208.39M83.41,212.99L78.81,208.39M83.41,212.99L89.69,211.31M89.69,211.31L91.37,205.03M91.37,205.03L86.77,200.43M86.77,200.43L80.49,202.11M80.49,202.11L78.81,208.39M80.46,218.78L84.82,223.6M80.46,228.42L84.82,223.6M68.2,223.6L74.04,217.76" stroke="#6a6a6a" stroke-width="2.0" fill="none" stroke-linecap="round" stroke-linejoin="round"/>
<path d="M80.49,245.09L77.52,248.06M89.69,235.89L92.66,232.92M86.77,246.77L87.86,250.83M91.37,242.17L95.43,243.26M46.71,235.89L43.74,232.92M55.91,245.09L58.88,248.06M45.03,242.17L40.97,243.26M49.63,246.77L48.54,250.83M55.91,202.11L58.88,199.14M46.71,211.31L43.74,214.28M49.63,200.43L48.54,196.37M45.03,205.03L40.97,203.94M89.69,211.31L92.66,214.28M80.49,202.11L77.52,199.14M91.37,205.03L95.43,203.94M86.77,200.43L87.86,196.37" stroke="#8a8a8a" stroke-width="1.5" fill="none" stroke-linecap="round"/>
<circle cx="73.02" cy="235.86" r="1.35" fill="#505050" />
<circle cx="80.46" cy="228.42" r="1.35" fill="#505050" />
<circle cx="78.81" cy="238.81" r="1.35" fill="#505050" />
<circle cx="83.41" cy="234.21" r="1.35" fill="#505050" />
<circle cx="80.49" cy="245.09" r="1.35" fill="#505050" />
<circle cx="89.69" cy="235.89" r="1.35" fill="#505050" />
<circle cx="86.77" cy="246.77" r="1.35" fill="#505050" />
<circle cx="91.37" cy="242.17" r="1.35" fill="#505050" />
<circle cx="74.04" cy="229.44" r="1.6" fill="#23237a" />
<circle cx="55.94" cy="228.42" r="1.35" fill="#505050" />
<circle cx="63.38" cy="235.86" r="1.35" fill="#505050" />
<circle cx="52.99" cy="234.21" r="1.35" fill="#505050" />
<circle cx="57.59" cy="238.81" r="1.35" fill="#505050" />
<circle cx="46.71" cy="235.89" r="1.35" fill="#505050" />
<circle cx="55.91" cy="245.09" r="1.35" fill="#505050" />
<circle cx="45.03" cy="242.17" r="1.35" fill="#505050" />
<circle cx="49.63" cy="246.77" r="1.35" fill="#505050" />
<circle cx="62.36" cy="229.44" r="1.6" fill="#23237a" />
<circle cx="63.38" cy="211.34" r="1.35" fill="#505050" />
<circle cx="55.94" cy="218.78" r="1.35" fill="#505050" />
<circle cx="57.59" cy="208.39" r="1.35" fill="#505050" />
<circle cx="52.99" cy="212.99" r="1.35" fill="#505050" />
<circle cx="55.91" cy="202.11" r="1.35" fill="#505050" />
<circle cx="46.71" cy="211.31" r="1.35" fill="#505050" />
<circle cx="49.63" cy="200.43" r="1.35" fill="#505050" />
<circle cx="45.03" cy="205.03" r="1.35" fill="#505050" />
<circle cx="62.36" cy="217.76" r="1.6" fill="#23237a" />
<circle cx="80.46" cy="218.78" r="1.35" fill="#505050" />
<circle cx="73.02" cy="211.34" r="1.35" fill="#505050" />
<circle cx="83.41" cy="212.99" r="1.35" fill="#505050" />
<circle cx="78.81" cy="208.39" r="1.35" fill="#505050" />
<circle cx="89.69" cy="211.31" r="1.35" fill="#505050" />
<circle cx="80.49" cy="202.11" r="1.35" fill="#505050" />
<circle cx="91.37" cy="205.03" r="1.35" fill="#505050" />
<circle cx="86.77" cy="200.43" r="1.35" fill="#505050" />
<circle cx="74.04" cy="217.76" r="1.6" fill="#23237a" />
<circle cx="68.2" cy="240.22" r="1.6" fill="#23237a" />
<circle cx="51.58" cy="223.6" r="1.6" fill="#23237a" />
<circle cx="68.2" cy="206.98" r="1.6" fill="#23237a" />
<circle cx="84.82" cy="223.6" r="1.6" fill="#23237a" />
<circle cx="68.2" cy="223.6" r="2" fill="#7a6040" />
<line x1="45.03" y1="205.03" x2="39.2" y2="202.8" stroke="#777" stroke-width="1.8" />
<line x1="39.2" y1="202.8" x2="37.4" y2="196.6" stroke="#a08a3a" stroke-width="1.6" />
<line x1="39.2" y1="202.8" x2="34.1" y2="207.9" stroke="#a08a3a" stroke-width="1.6" />
<line x1="39.2" y1="202.8" x2="35.5" y2="202" stroke="#a08a3a" stroke-width="1.6" />
<circle cx="39.2" cy="202.8" r="2.2" fill="#d2b428" />
<circle cx="37.4" cy="196.6" r="1.8" fill="#3e2616" />
<circle cx="34.1" cy="207.9" r="1.8" fill="#3e2616" />
<circle cx="35.5" cy="202" r="1.8" fill="#3e2616" />
<line x1="86.77" y1="200.43" x2="89.9" y2="194.9" stroke="#777" stroke-width="1.8" />
<line x1="89.9" y1="194.9" x2="84.1" y2="190.5" stroke="#a08a3a" stroke-width="1.6" />
<line x1="89.9" y1="194.9" x2="93.2" y2="191.6" stroke="#a08a3a" stroke-width="1.6" />
<line x1="89.9" y1="194.9" x2="95" y2="194.8" stroke="#a08a3a" stroke-width="1.6" />
<circle cx="89.9" cy="194.9" r="2.2" fill="#d2b428" />
<circle cx="84.1" cy="190.5" r="1.8" fill="#3e2616" />
<circle cx="93.2" cy="191.6" r="1.8" fill="#3e2616" />
<circle cx="95" cy="194.8" r="1.8" fill="#3e2616" />
<line x1="49.63" y1="246.77" x2="47.5" y2="254.3" stroke="#777" stroke-width="1.8" />
<line x1="47.5" y1="254.3" x2="40.9" y2="255" stroke="#a08a3a" stroke-width="1.6" />
<line x1="47.5" y1="254.3" x2="51.8" y2="258.6" stroke="#a08a3a" stroke-width="1.6" />
<line x1="47.5" y1="254.3" x2="45.2" y2="257.2" stroke="#a08a3a" stroke-width="1.6" />
<circle cx="47.5" cy="254.3" r="2.2" fill="#d2b428" />
<circle cx="40.9" cy="255" r="1.8" fill="#3e2616" />
<circle cx="51.8" cy="258.6" r="1.8" fill="#3e2616" />
<circle cx="45.2" cy="257.2" r="1.8" fill="#3e2616" />
<line x1="91.37" y1="242.17" x2="98.5" y2="245.3" stroke="#777" stroke-width="1.8" />
<line x1="98.5" y1="245.3" x2="102" y2="240.5" stroke="#a08a3a" stroke-width="1.6" />
<line x1="98.5" y1="245.3" x2="98.2" y2="251.7" stroke="#a08a3a" stroke-width="1.6" />
<line x1="98.5" y1="245.3" x2="103" y2="245" stroke="#a08a3a" stroke-width="1.6" />
<circle cx="98.5" cy="245.3" r="2.2" fill="#d2b428" />
<circle cx="102" cy="240.5" r="1.8" fill="#3e2616" />
<circle cx="98.2" cy="251.7" r="1.8" fill="#3e2616" />
<circle cx="103" cy="245" r="1.8" fill="#3e2616" />
<path d="M189.94,229.84L188.92,236.26M189.94,229.84L196.36,228.82M188.92,236.26L194.71,239.21M196.36,228.82L199.31,234.61M194.71,239.21L199.31,234.61M194.71,239.21L196.39,245.49M196.39,245.49L202.67,247.17M202.67,247.17L207.27,242.57M207.27,242.57L205.59,236.29M205.59,236.29L199.31,234.61M188.92,236.26L184.1,240.62M179.28,236.26L184.1,240.62M184.1,224L189.94,229.84M178.26,229.84L171.84,228.82M178.26,229.84L179.28,236.26M171.84,228.82L168.89,234.61M179.28,236.26L173.49,239.21M168.89,234.61L173.49,239.21M168.89,234.61L162.61,236.29M162.61,236.29L160.93,242.57M160.93,242.57L165.53,247.17M165.53,247.17L171.81,245.49M171.81,245.49L173.49,239.21M171.84,228.82L167.48,224M171.84,219.18L167.48,224M184.1,224L178.26,229.84M178.26,218.16L179.28,211.74M178.26,218.16L171.84,219.18M179.28,211.74L173.49,208.79M171.84,219.18L168.89,213.39M173.49,208.79L168.89,213.39M173.49,208.79L171.81,202.51M171.81,202.51L165.53,200.83M165.53,200.83L160.93,205.43M160.93,205.43L162.61,211.71M162.61,211.71L168.89,213.39M179.28,211.74L184.1,207.38M188.92,211.74L184.1,207.38M184.1,224L178.26,218.16M189.94,218.16L196.36,219.18M189.94,218.16L188.92,211.74M196.36,219.18L199.31,213.39M188.92,211.74L194.71,208.79M199.31,213.39L194.71,208.79M199.31,213.39L205.59,211.71M205.59,211.71L207.27,205.43M207.27,205.43L202.67,200.83M202.67,200.83L196.39,202.51M196.39,202.51L194.71,208.79M196.36,219.18L200.72,224M196.36,228.82L200.72,224M184.1,224L189.94,218.16" stroke="#6a6a6a" stroke-width="2.0" fill="none" stroke-linecap="round" stroke-linejoin="round"/>
<path d="M196.39,245.49L193.42,248.46M205.59,236.29L208.56,233.32M202.67,247.17L203.76,251.23M207.27,242.57L211.33,243.66M162.61,236.29L159.64,233.32M171.81,245.49L174.78,248.46M160.93,242.57L156.87,243.66M165.53,247.17L164.44,251.23M171.81,202.51L174.78,199.54M162.61,211.71L159.64,214.68M165.53,200.83L164.44,196.77M160.93,205.43L156.87,204.34M205.59,211.71L208.56,214.68M196.39,202.51L193.42,199.54M207.27,205.43L211.33,204.34M202.67,200.83L203.76,196.77" stroke="#8a8a8a" stroke-width="1.5" fill="none" stroke-linecap="round"/>
<circle cx="188.92" cy="236.26" r="1.35" fill="#505050" />
<circle cx="196.36" cy="228.82" r="1.35" fill="#505050" />
<circle cx="194.71" cy="239.21" r="1.35" fill="#505050" />
<circle cx="199.31" cy="234.61" r="1.35" fill="#505050" />
<circle cx="196.39" cy="245.49" r="1.35" fill="#505050" />
<circle cx="205.59" cy="236.29" r="1.35" fill="#505050" />
<circle cx="202.67" cy="247.17" r="1.35" fill="#505050" />
<circle cx="207.27" cy="242.57" r="1.35" fill="#505050" />
<circle cx="189.94" cy="229.84" r="1.6" fill="#23237a" />
<circle cx="171.84" cy="228.82" r="1.35" fill="#505050" />
<circle cx="179.28" cy="236.26" r="1.35" fill="#505050" />
<circle cx="168.89" cy="234.61" r="1.35" fill="#505050" />
<circle cx="173.49" cy="239.21" r="1.35" fill="#505050" />
<circle cx="162.61" cy="236.29" r="1.35" fill="#505050" />
<circle cx="171.81" cy="245.49" r="1.35" fill="#505050" />
<circle cx="160.93" cy="242.57" r="1.35" fill="#505050" />
<circle cx="165.53" cy="247.17" r="1.35" fill="#505050" />
<circle cx="178.26" cy="229.84" r="1.6" fill="#23237a" />
<circle cx="179.28" cy="211.74" r="1.35" fill="#505050" />
<circle cx="171.84" cy="219.18" r="1.35" fill="#505050" />
<circle cx="173.49" cy="208.79" r="1.35" fill="#505050" />
<circle cx="168.89" cy="213.39" r="1.35" fill="#505050" />
<circle cx="171.81" cy="202.51" r="1.35" fill="#505050" />
<circle cx="162.61" cy="211.71" r="1.35" fill="#505050" />
<circle cx="165.53" cy="200.83" r="1.35" fill="#505050" />
<circle cx="160.93" cy="205.43" r="1.35" fill="#505050" />
<circle cx="178.26" cy="218.16" r="1.6" fill="#23237a" />
<circle cx="196.36" cy="219.18" r="1.35" fill="#505050" />
<circle cx="188.92" cy="211.74" r="1.35" fill="#505050" />
<circle cx="199.31" cy="213.39" r="1.35" fill="#505050" />
<circle cx="194.71" cy="208.79" r="1.35" fill="#505050" />
<circle cx="205.59" cy="211.71" r="1.35" fill="#505050" />
<circle cx="196.39" cy="202.51" r="1.35" fill="#505050" />
<circle cx="207.27" cy="205.43" r="1.35" fill="#505050" />
<circle cx="202.67" cy="200.83" r="1.35" fill="#505050" />
<circle cx="189.94" cy="218.16" r="1.6" fill="#23237a" />
<circle cx="184.1" cy="240.62" r="1.6" fill="#23237a" />
<circle cx="167.48" cy="224" r="1.6" fill="#23237a" />
<circle cx="184.1" cy="207.38" r="1.6" fill="#23237a" />
<circle cx="200.72" cy="224" r="1.6" fill="#23237a" />
<circle cx="184.1" cy="224" r="2" fill="#7a6040" />
<line x1="160.93" y1="205.43" x2="155.3" y2="204.3" stroke="#777" stroke-width="1.8" />
<line x1="155.3" y1="204.3" x2="153.8" y2="198.5" stroke="#7a5a50" stroke-width="1.6" />
<line x1="155.3" y1="204.3" x2="150.9" y2="207.9" stroke="#7a5a50" stroke-width="1.6" />
<line x1="153.8" y1="198.5" x2="149.5" y2="198.1" stroke="#9a9a9a" stroke-width="1.2" />
<circle cx="155.3" cy="204.3" r="1.5" fill="#5a5a5a" />
<circle cx="153.8" cy="198.5" r="1.8" fill="#6a2418" />
<circle cx="150.9" cy="207.9" r="1.8" fill="#6a2418" />
<line x1="202.67" y1="200.83" x2="206.5" y2="195" stroke="#777" stroke-width="1.8" />
<line x1="206.5" y1="195" x2="202" y2="191" stroke="#7a5a50" stroke-width="1.6" />
<line x1="206.5" y1="195" x2="210.5" y2="191.5" stroke="#7a5a50" stroke-width="1.6" />
<line x1="210.5" y1="191.5" x2="214.5" y2="190.5" stroke="#9a9a9a" stroke-width="1.2" />
<circle cx="206.5" cy="195" r="1.5" fill="#5a5a5a" />
<circle cx="202" cy="191" r="1.8" fill="#6a2418" />
<circle cx="210.5" cy="191.5" r="1.8" fill="#6a2418" />
<line x1="165.53" y1="247.17" x2="158.8" y2="252.5" stroke="#777" stroke-width="1.8" />
<line x1="158.8" y1="252.5" x2="156" y2="257.8" stroke="#7a5a50" stroke-width="1.6" />
<line x1="158.8" y1="252.5" x2="163" y2="256.5" stroke="#7a5a50" stroke-width="1.6" />
<line x1="156" y1="257.8" x2="152.5" y2="258.5" stroke="#9a9a9a" stroke-width="1.2" />
<circle cx="158.8" cy="252.5" r="1.5" fill="#5a5a5a" />
<circle cx="156" cy="257.8" r="1.8" fill="#6a2418" />
<circle cx="163" cy="256.5" r="1.8" fill="#6a2418" />
<line x1="207.27" y1="242.57" x2="214.5" y2="243" stroke="#777" stroke-width="1.8" />
<line x1="214.5" y1="243" x2="218.8" y2="240" stroke="#7a5a50" stroke-width="1.6" />
<line x1="214.5" y1="243" x2="217.5" y2="248.5" stroke="#7a5a50" stroke-width="1.6" />
<line x1="217.5" y1="248.5" x2="221" y2="251" stroke="#9a9a9a" stroke-width="1.2" />
<circle cx="214.5" cy="243" r="1.5" fill="#5a5a5a" />
<circle cx="218.8" cy="240" r="1.8" fill="#6a2418" />
<circle cx="217.5" cy="248.5" r="1.8" fill="#6a2418" />
<path d="M297.24,230.04L296.22,236.46M297.24,230.04L303.66,229.02M296.22,236.46L302.01,239.41M303.66,229.02L306.61,234.81M302.01,239.41L306.61,234.81M302.01,239.41L303.69,245.69M303.69,245.69L309.97,247.37M309.97,247.37L314.57,242.77M314.57,242.77L312.89,236.49M312.89,236.49L306.61,234.81M296.22,236.46L291.4,240.82M286.58,236.46L291.4,240.82M291.4,224.2L297.24,230.04M285.56,230.04L279.14,229.02M285.56,230.04L286.58,236.46M279.14,229.02L276.19,234.81M286.58,236.46L280.79,239.41M276.19,234.81L280.79,239.41M276.19,234.81L269.91,236.49M269.91,236.49L268.23,242.77M268.23,242.77L272.83,247.37M272.83,247.37L279.11,245.69M279.11,245.69L280.79,239.41M279.14,229.02L274.78,224.2M279.14,219.38L274.78,224.2M291.4,224.2L285.56,230.04M285.56,218.36L286.58,211.94M285.56,218.36L279.14,219.38M286.58,211.94L280.79,208.99M279.14,219.38L276.19,213.59M280.79,208.99L276.19,213.59M280.79,208.99L279.11,202.71M279.11,202.71L272.83,201.03M272.83,201.03L268.23,205.63M268.23,205.63L269.91,211.91M269.91,211.91L276.19,213.59M286.58,211.94L291.4,207.58M296.22,211.94L291.4,207.58M291.4,224.2L285.56,218.36M297.24,218.36L303.66,219.38M297.24,218.36L296.22,211.94M303.66,219.38L306.61,213.59M296.22,211.94L302.01,208.99M306.61,213.59L302.01,208.99M306.61,213.59L312.89,211.91M312.89,211.91L314.57,205.63M314.57,205.63L309.97,201.03M309.97,201.03L303.69,202.71M303.69,202.71L302.01,208.99M303.66,219.38L308.02,224.2M303.66,229.02L308.02,224.2M291.4,224.2L297.24,218.36" stroke="#6a6a6a" stroke-width="2.0" fill="none" stroke-linecap="round" stroke-linejoin="round"/>
<path d="M303.69,245.69L300.72,248.66M312.89,236.49L315.86,233.52M309.97,247.37L311.06,251.43M314.57,242.77L318.63,243.86M269.91,236.49L266.94,233.52M279.11,245.69L282.08,248.66M268.23,242.77L264.17,243.86M272.83,247.37L271.74,251.43M279.11,202.71L282.08,199.74M269.91,211.91L266.94,214.88M272.83,201.03L271.74,196.97M268.23,205.63L264.17,204.54M312.89,211.91L315.86,214.88M303.69,202.71L300.72,199.74M314.57,205.63L318.63,204.54M309.97,201.03L311.06,196.97" stroke="#8a8a8a" stroke-width="1.5" fill="none" stroke-linecap="round"/>
<circle cx="296.22" cy="236.46" r="1.35" fill="#505050" />
<circle cx="303.66" cy="229.02" r="1.35" fill="#505050" />
<circle cx="302.01" cy="239.41" r="1.35" fill="#505050" />
<circle cx="306.61" cy="234.81" r="1.35" fill="#505050" />
<circle cx="303.69" cy="245.69" r="1.35" fill="#505050" />
<circle cx="312.89" cy="236.49" r="1.35" fill="#505050" />
<circle cx="309.97" cy="247.37" r="1.35" fill="#505050" />
<circle cx="314.57" cy="242.77" r="1.35" fill="#505050" />
<circle cx="297.24" cy="230.04" r="1.6" fill="#23237a" />
<circle cx="279.14" cy="229.02" r="1.35" fill="#505050" />
<circle cx="286.58" cy="236.46" r="1.35" fill="#505050" />
<circle cx="276.19" cy="234.81" r="1.35" fill="#505050" />
<circle cx="280.79" cy="239.41" r="1.35" fill="#505050" />
<circle cx="269.91" cy="236.49" r="1.35" fill="#505050" />
<circle cx="279.11" cy="245.69" r="1.35" fill="#505050" />
<circle cx="268.23" cy="242.77" r="1.35" fill="#505050" />
<circle cx="272.83" cy="247.37" r="1.35" fill="#505050" />
<circle cx="285.56" cy="230.04" r="1.6" fill="#23237a" />
<circle cx="286.58" cy="211.94" r="1.35" fill="#505050" />
<circle cx="279.14" cy="219.38" r="1.35" fill="#505050" />
<circle cx="280.79" cy="208.99" r="1.35" fill="#505050" />
<circle cx="276.19" cy="213.59" r="1.35" fill="#505050" />
<circle cx="279.11" cy="202.71" r="1.35" fill="#505050" />
<circle cx="269.91" cy="211.91" r="1.35" fill="#505050" />
<circle cx="272.83" cy="201.03" r="1.35" fill="#505050" />
<circle cx="268.23" cy="205.63" r="1.35" fill="#505050" />
<circle cx="285.56" cy="218.36" r="1.6" fill="#23237a" />
<circle cx="303.66" cy="219.38" r="1.35" fill="#505050" />
<circle cx="296.22" cy="211.94" r="1.35" fill="#505050" />
<circle cx="306.61" cy="213.59" r="1.35" fill="#505050" />
<circle cx="302.01" cy="208.99" r="1.35" fill="#505050" />
<circle cx="312.89" cy="211.91" r="1.35" fill="#505050" />
<circle cx="303.69" cy="202.71" r="1.35" fill="#505050" />
<circle cx="314.57" cy="205.63" r="1.35" fill="#505050" />
<circle cx="309.97" cy="201.03" r="1.35" fill="#505050" />
<circle cx="297.24" cy="218.36" r="1.6" fill="#23237a" />
<circle cx="291.4" cy="240.82" r="1.6" fill="#23237a" />
<circle cx="274.78" cy="224.2" r="1.6" fill="#23237a" />
<circle cx="291.4" cy="207.58" r="1.6" fill="#23237a" />
<circle cx="308.02" cy="224.2" r="1.6" fill="#23237a" />
<circle cx="291.4" cy="224.2" r="2" fill="#7a6040" />
<path d="M399.44,230.04L398.42,236.46M399.44,230.04L405.86,229.02M398.42,236.46L404.21,239.41M405.86,229.02L408.81,234.81M404.21,239.41L408.81,234.81M404.21,239.41L405.89,245.69M405.89,245.69L412.17,247.37M412.17,247.37L416.77,242.77M416.77,242.77L415.09,236.49M415.09,236.49L408.81,234.81M398.42,236.46L393.6,240.82M388.78,236.46L393.6,240.82M393.6,224.2L399.44,230.04M387.76,230.04L381.34,229.02M387.76,230.04L388.78,236.46M381.34,229.02L378.39,234.81M388.78,236.46L382.99,239.41M378.39,234.81L382.99,239.41M378.39,234.81L372.11,236.49M372.11,236.49L370.43,242.77M370.43,242.77L375.03,247.37M375.03,247.37L381.31,245.69M381.31,245.69L382.99,239.41M381.34,229.02L376.98,224.2M381.34,219.38L376.98,224.2M393.6,224.2L387.76,230.04M387.76,218.36L388.78,211.94M387.76,218.36L381.34,219.38M388.78,211.94L382.99,208.99M381.34,219.38L378.39,213.59M382.99,208.99L378.39,213.59M382.99,208.99L381.31,202.71M381.31,202.71L375.03,201.03M375.03,201.03L370.43,205.63M370.43,205.63L372.11,211.91M372.11,211.91L378.39,213.59M388.78,211.94L393.6,207.58M398.42,211.94L393.6,207.58M393.6,224.2L387.76,218.36M399.44,218.36L405.86,219.38M399.44,218.36L398.42,211.94M405.86,219.38L408.81,213.59M398.42,211.94L404.21,208.99M408.81,213.59L404.21,208.99M408.81,213.59L415.09,211.91M415.09,211.91L416.77,205.63M416.77,205.63L412.17,201.03M412.17,201.03L405.89,202.71M405.89,202.71L404.21,208.99M405.86,219.38L410.22,224.2M405.86,229.02L410.22,224.2M393.6,224.2L399.44,218.36" stroke="#6a6a6a" stroke-width="2.0" fill="none" stroke-linecap="round" stroke-linejoin="round"/>
<path d="M405.89,245.69L402.92,248.66M415.09,236.49L418.06,233.52M412.17,247.37L413.26,251.43M416.77,242.77L420.83,243.86M372.11,236.49L369.14,233.52M381.31,245.69L384.28,248.66M370.43,242.77L366.37,243.86M375.03,247.37L373.94,251.43M381.31,202.71L384.28,199.74M372.11,211.91L369.14,214.88M375.03,201.03L373.94,196.97M370.43,205.63L366.37,204.54M415.09,211.91L418.06,214.88M405.89,202.71L402.92,199.74M416.77,205.63L420.83,204.54M412.17,201.03L413.26,196.97" stroke="#8a8a8a" stroke-width="1.5" fill="none" stroke-linecap="round"/>
<circle cx="398.42" cy="236.46" r="1.35" fill="#505050" />
<circle cx="405.86" cy="229.02" r="1.35" fill="#505050" />
<circle cx="404.21" cy="239.41" r="1.35" fill="#505050" />
<circle cx="408.81" cy="234.81" r="1.35" fill="#505050" />
<circle cx="405.89" cy="245.69" r="1.35" fill="#505050" />
<circle cx="415.09" cy="236.49" r="1.35" fill="#505050" />
<circle cx="412.17" cy="247.37" r="1.35" fill="#505050" />
<circle cx="416.77" cy="242.77" r="1.35" fill="#505050" />
<circle cx="399.44" cy="230.04" r="1.6" fill="#23237a" />
<circle cx="381.34" cy="229.02" r="1.35" fill="#505050" />
<circle cx="388.78" cy="236.46" r="1.35" fill="#505050" />
<circle cx="378.39" cy="234.81" r="1.35" fill="#505050" />
<circle cx="382.99" cy="239.41" r="1.35" fill="#505050" />
<circle cx="372.11" cy="236.49" r="1.35" fill="#505050" />
<circle cx="381.31" cy="245.69" r="1.35" fill="#505050" />
<circle cx="370.43" cy="242.77" r="1.35" fill="#505050" />
<circle cx="375.03" cy="247.37" r="1.35" fill="#505050" />
<circle cx="387.76" cy="230.04" r="1.6" fill="#23237a" />
<circle cx="388.78" cy="211.94" r="1.35" fill="#505050" />
<circle cx="381.34" cy="219.38" r="1.35" fill="#505050" />
<circle cx="382.99" cy="208.99" r="1.35" fill="#505050" />
<circle cx="378.39" cy="213.59" r="1.35" fill="#505050" />
<circle cx="381.31" cy="202.71" r="1.35" fill="#505050" />
<circle cx="372.11" cy="211.91" r="1.35" fill="#505050" />
<circle cx="375.03" cy="201.03" r="1.35" fill="#505050" />
<circle cx="370.43" cy="205.63" r="1.35" fill="#505050" />
<circle cx="387.76" cy="218.36" r="1.6" fill="#23237a" />
<circle cx="405.86" cy="219.38" r="1.35" fill="#505050" />
<circle cx="398.42" cy="211.94" r="1.35" fill="#505050" />
<circle cx="408.81" cy="213.59" r="1.35" fill="#505050" />
<circle cx="404.21" cy="208.99" r="1.35" fill="#505050" />
<circle cx="415.09" cy="211.91" r="1.35" fill="#505050" />
<circle cx="405.89" cy="202.71" r="1.35" fill="#505050" />
<circle cx="416.77" cy="205.63" r="1.35" fill="#505050" />
<circle cx="412.17" cy="201.03" r="1.35" fill="#505050" />
<circle cx="399.44" cy="218.36" r="1.6" fill="#23237a" />
<circle cx="393.6" cy="240.82" r="1.6" fill="#23237a" />
<circle cx="376.98" cy="224.2" r="1.6" fill="#23237a" />
<circle cx="393.6" cy="207.58" r="1.6" fill="#23237a" />
<circle cx="410.22" cy="224.2" r="1.6" fill="#23237a" />
<circle cx="393.6" cy="224.2" r="2" fill="#7a6040" />
<line x1="370.43" y1="205.63" x2="362.7" y2="203.6" stroke="#8c8c8c" stroke-width="1.6" />
<line x1="362.7" y1="203.6" x2="360.11" y2="205.8" stroke="#8a8a8a" stroke-width="1.4" />
<line x1="362.7" y1="203.6" x2="361.52" y2="200.41" stroke="#8a8a8a" stroke-width="1.4" />
<circle cx="362.7" cy="203.6" r="2" fill="#22226e" />
<line x1="412.17" y1="201.03" x2="414.5" y2="193.6" stroke="#8c8c8c" stroke-width="1.6" />
<line x1="414.5" y1="193.6" x2="412.43" y2="190.91" stroke="#8a8a8a" stroke-width="1.4" />
<line x1="414.5" y1="193.6" x2="417.74" y2="192.57" stroke="#8a8a8a" stroke-width="1.4" />
<circle cx="414.5" cy="193.6" r="2" fill="#22226e" />
<line x1="375.03" y1="247.37" x2="371.8" y2="253.6" stroke="#8c8c8c" stroke-width="1.6" />
<line x1="371.8" y1="253.6" x2="373.38" y2="256.61" stroke="#8a8a8a" stroke-width="1.4" />
<line x1="371.8" y1="253.6" x2="368.43" y2="254.05" stroke="#8a8a8a" stroke-width="1.4" />
<circle cx="371.8" cy="253.6" r="2" fill="#22226e" />
<line x1="416.77" y1="242.77" x2="423.6" y2="244.5" stroke="#8c8c8c" stroke-width="1.6" />
<line x1="423.6" y1="244.5" x2="426.17" y2="242.28" stroke="#8a8a8a" stroke-width="1.4" />
<line x1="423.6" y1="244.5" x2="424.81" y2="247.68" stroke="#8a8a8a" stroke-width="1.4" />
<circle cx="423.6" cy="244.5" r="2" fill="#22226e" />
<path d="M508.24,229.54L507.22,235.96M508.24,229.54L514.66,228.52M507.22,235.96L513.01,238.91M514.66,228.52L517.61,234.31M513.01,238.91L517.61,234.31M513.01,238.91L514.69,245.19M514.69,245.19L520.97,246.87M520.97,246.87L525.57,242.27M525.57,242.27L523.89,235.99M523.89,235.99L517.61,234.31M507.22,235.96L502.4,240.32M497.58,235.96L502.4,240.32M502.4,223.7L508.24,229.54M496.56,229.54L490.14,228.52M496.56,229.54L497.58,235.96M490.14,228.52L487.19,234.31M497.58,235.96L491.79,238.91M487.19,234.31L491.79,238.91M487.19,234.31L480.91,235.99M480.91,235.99L479.23,242.27M479.23,242.27L483.83,246.87M483.83,246.87L490.11,245.19M490.11,245.19L491.79,238.91M490.14,228.52L485.78,223.7M490.14,218.88L485.78,223.7M502.4,223.7L496.56,229.54M496.56,217.86L497.58,211.44M496.56,217.86L490.14,218.88M497.58,211.44L491.79,208.49M490.14,218.88L487.19,213.09M491.79,208.49L487.19,213.09M491.79,208.49L490.11,202.21M490.11,202.21L483.83,200.53M483.83,200.53L479.23,205.13M479.23,205.13L480.91,211.41M480.91,211.41L487.19,213.09M497.58,211.44L502.4,207.08M507.22,211.44L502.4,207.08M502.4,223.7L496.56,217.86M508.24,217.86L514.66,218.88M508.24,217.86L507.22,211.44M514.66,218.88L517.61,213.09M507.22,211.44L513.01,208.49M517.61,213.09L513.01,208.49M517.61,213.09L523.89,211.41M523.89,211.41L525.57,205.13M525.57,205.13L520.97,200.53M520.97,200.53L514.69,202.21M514.69,202.21L513.01,208.49M514.66,218.88L519.02,223.7M514.66,228.52L519.02,223.7M502.4,223.7L508.24,217.86" stroke="#6a6a6a" stroke-width="2.0" fill="none" stroke-linecap="round" stroke-linejoin="round"/>
<path d="M514.69,245.19L511.72,248.16M523.89,235.99L526.86,233.02M520.97,246.87L522.06,250.93M525.57,242.27L529.63,243.36M480.91,235.99L477.94,233.02M490.11,245.19L493.08,248.16M479.23,242.27L475.17,243.36M483.83,246.87L482.74,250.93M490.11,202.21L493.08,199.24M480.91,211.41L477.94,214.38M483.83,200.53L482.74,196.47M479.23,205.13L475.17,204.04M523.89,211.41L526.86,214.38M514.69,202.21L511.72,199.24M525.57,205.13L529.63,204.04M520.97,200.53L522.06,196.47" stroke="#8a8a8a" stroke-width="1.5" fill="none" stroke-linecap="round"/>
<circle cx="507.22" cy="235.96" r="1.35" fill="#505050" />
<circle cx="514.66" cy="228.52" r="1.35" fill="#505050" />
<circle cx="513.01" cy="238.91" r="1.35" fill="#505050" />
<circle cx="517.61" cy="234.31" r="1.35" fill="#505050" />
<circle cx="514.69" cy="245.19" r="1.35" fill="#505050" />
<circle cx="523.89" cy="235.99" r="1.35" fill="#505050" />
<circle cx="520.97" cy="246.87" r="1.35" fill="#505050" />
<circle cx="525.57" cy="242.27" r="1.35" fill="#505050" />
<circle cx="508.24" cy="229.54" r="1.6" fill="#23237a" />
<circle cx="490.14" cy="228.52" r="1.35" fill="#505050" />
<circle cx="497.58" cy="235.96" r="1.35" fill="#505050" />
<circle cx="487.19" cy="234.31" r="1.35" fill="#505050" />
<circle cx="491.79" cy="238.91" r="1.35" fill="#505050" />
<circle cx="480.91" cy="235.99" r="1.35" fill="#505050" />
<circle cx="490.11" cy="245.19" r="1.35" fill="#505050" />
<circle cx="479.23" cy="242.27" r="1.35" fill="#505050" />
<circle cx="483.83" cy="246.87" r="1.35" fill="#505050" />
<circle cx="496.56" cy="229.54" r="1.6" fill="#23237a" />
<circle cx="497.58" cy="211.44" r="1.35" fill="#505050" />
<circle cx="490.14" cy="218.88" r="1.35" fill="#505050" />
<circle cx="491.79" cy="208.49" r="1.35" fill="#505050" />
<circle cx="487.19" cy="213.09" r="1.35" fill="#505050" />
<circle cx="490.11" cy="202.21" r="1.35" fill="#505050" />
<circle cx="480.91" cy="211.41" r="1.35" fill="#505050" />
<circle cx="483.83" cy="200.53" r="1.35" fill="#505050" />
<circle cx="479.23" cy="205.13" r="1.35" fill="#505050" />
<circle cx="496.56" cy="217.86" r="1.6" fill="#23237a" />
<circle cx="514.66" cy="218.88" r="1.35" fill="#505050" />
<circle cx="507.22" cy="211.44" r="1.35" fill="#505050" />
<circle cx="517.61" cy="213.09" r="1.35" fill="#505050" />
<circle cx="513.01" cy="208.49" r="1.35" fill="#505050" />
<circle cx="523.89" cy="211.41" r="1.35" fill="#505050" />
<circle cx="514.69" cy="202.21" r="1.35" fill="#505050" />
<circle cx="525.57" cy="205.13" r="1.35" fill="#505050" />
<circle cx="520.97" cy="200.53" r="1.35" fill="#505050" />
<circle cx="508.24" cy="217.86" r="1.6" fill="#23237a" />
<circle cx="502.4" cy="240.32" r="1.6" fill="#23237a" />
<circle cx="485.78" cy="223.7" r="1.6" fill="#23237a" />
<circle cx="502.4" cy="207.08" r="1.6" fill="#23237a" />
<circle cx="519.02" cy="223.7" r="1.6" fill="#23237a" />
<circle cx="502.4" cy="223.7" r="2" fill="#7a6040" />
<line x1="479.23" y1="205.13" x2="471.8" y2="202.3" stroke="#8c8c8c" stroke-width="1.6" />
<line x1="471.8" y1="202.3" x2="467.92" y2="205.46" stroke="#7c7c7c" stroke-width="1.6" />
<line x1="467.92" y1="205.46" x2="468.78" y2="207.91" stroke="#a0a0a0" stroke-width="1" />
<line x1="467.92" y1="205.46" x2="465.91" y2="207.1" stroke="#a0a0a0" stroke-width="1" />
<line x1="467.92" y1="205.46" x2="465.69" y2="204.13" stroke="#a0a0a0" stroke-width="1" />
<circle cx="467.92" cy="205.46" r="1.3" fill="#505050" />
<line x1="471.8" y1="202.3" x2="471" y2="197.36" stroke="#7c7c7c" stroke-width="1.6" />
<line x1="471" y1="197.36" x2="468.45" y2="196.88" stroke="#a0a0a0" stroke-width="1" />
<line x1="471" y1="197.36" x2="470.59" y2="194.8" stroke="#a0a0a0" stroke-width="1" />
<line x1="471" y1="197.36" x2="473.27" y2="196.1" stroke="#a0a0a0" stroke-width="1" />
<circle cx="471" cy="197.36" r="1.3" fill="#505050" />
<circle cx="471.8" cy="202.3" r="2" fill="#22226e" />
<line x1="520.97" y1="200.53" x2="522.7" y2="195.9" stroke="#8c8c8c" stroke-width="1.6" />
<line x1="522.7" y1="195.9" x2="519.52" y2="192.04" stroke="#7c7c7c" stroke-width="1.6" />
<line x1="519.52" y1="192.04" x2="517.07" y2="192.91" stroke="#a0a0a0" stroke-width="1" />
<line x1="519.52" y1="192.04" x2="517.86" y2="190.04" stroke="#a0a0a0" stroke-width="1" />
<line x1="519.52" y1="192.04" x2="520.83" y2="189.8" stroke="#a0a0a0" stroke-width="1" />
<circle cx="519.52" cy="192.04" r="1.3" fill="#505050" />
<line x1="522.7" y1="195.9" x2="527.63" y2="195.07" stroke="#7c7c7c" stroke-width="1.6" />
<line x1="527.63" y1="195.07" x2="528.1" y2="192.51" stroke="#a0a0a0" stroke-width="1" />
<line x1="527.63" y1="195.07" x2="530.19" y2="194.64" stroke="#a0a0a0" stroke-width="1" />
<line x1="527.63" y1="195.07" x2="528.91" y2="197.33" stroke="#a0a0a0" stroke-width="1" />
<circle cx="527.63" cy="195.07" r="1.3" fill="#505050" />
<circle cx="522.7" cy="195.9" r="2" fill="#22226e" />
<line x1="483.83" y1="246.87" x2="482.7" y2="253.2" stroke="#8c8c8c" stroke-width="1.6" />
<line x1="482.7" y1="253.2" x2="486.52" y2="256.42" stroke="#7c7c7c" stroke-width="1.6" />
<line x1="486.52" y1="256.42" x2="488.78" y2="255.12" stroke="#a0a0a0" stroke-width="1" />
<line x1="486.52" y1="256.42" x2="488.51" y2="258.1" stroke="#a0a0a0" stroke-width="1" />
<line x1="486.52" y1="256.42" x2="485.63" y2="258.86" stroke="#a0a0a0" stroke-width="1" />
<circle cx="486.52" cy="256.42" r="1.3" fill="#505050" />
<line x1="482.7" y1="253.2" x2="478" y2="254.9" stroke="#7c7c7c" stroke-width="1.6" />
<line x1="478" y1="254.9" x2="477.99" y2="257.5" stroke="#a0a0a0" stroke-width="1" />
<line x1="478" y1="254.9" x2="475.55" y2="255.79" stroke="#a0a0a0" stroke-width="1" />
<line x1="478" y1="254.9" x2="476.33" y2="252.91" stroke="#a0a0a0" stroke-width="1" />
<circle cx="478" cy="254.9" r="1.3" fill="#505050" />
<circle cx="482.7" cy="253.2" r="2" fill="#22226e" />
<line x1="525.57" y1="242.27" x2="532.7" y2="245" stroke="#8c8c8c" stroke-width="1.6" />
<line x1="532.7" y1="245" x2="536.58" y2="241.85" stroke="#7c7c7c" stroke-width="1.6" />
<line x1="536.58" y1="241.85" x2="535.73" y2="239.39" stroke="#a0a0a0" stroke-width="1" />
<line x1="536.58" y1="241.85" x2="538.6" y2="240.21" stroke="#a0a0a0" stroke-width="1" />
<line x1="536.58" y1="241.85" x2="538.81" y2="243.19" stroke="#a0a0a0" stroke-width="1" />
<circle cx="536.58" cy="241.85" r="1.3" fill="#505050" />
<line x1="532.7" y1="245" x2="533.49" y2="249.94" stroke="#7c7c7c" stroke-width="1.6" />
<line x1="533.49" y1="249.94" x2="536.04" y2="250.43" stroke="#a0a0a0" stroke-width="1" />
<line x1="533.49" y1="249.94" x2="533.9" y2="252.5" stroke="#a0a0a0" stroke-width="1" />
<line x1="533.49" y1="249.94" x2="531.22" y2="251.2" stroke="#a0a0a0" stroke-width="1" />
<circle cx="533.49" cy="249.94" r="1.3" fill="#505050" />
<circle cx="532.7" cy="245" r="2" fill="#22226e" />
<rect x="250" y="274.5" width="30" height="6.5" fill="#e4fbf8" />
<rect x="250" y="283.5" width="30" height="6" fill="#fbe8f3" />
<rect x="144" y="284.5" width="82" height="3" fill="#fbe8f3" />
<line x1="31" y1="282.3" x2="105.5" y2="282.3" stroke="#777" stroke-width="1.3" />
<circle cx="31" cy="282.3" r="1.25" fill="#5a5a5a" />
<circle cx="34.92" cy="282.3" r="1.25" fill="#5a5a5a" />
<circle cx="38.84" cy="282.3" r="1.25" fill="#5a5a5a" />
<circle cx="42.76" cy="282.3" r="1.25" fill="#5a5a5a" />
<circle cx="46.68" cy="282.3" r="1.25" fill="#5a5a5a" />
<circle cx="50.61" cy="282.3" r="1.25" fill="#5a5a5a" />
<circle cx="54.53" cy="282.3" r="1.25" fill="#5a5a5a" />
<circle cx="58.45" cy="282.3" r="1.25" fill="#7a5a80" />
<circle cx="62.37" cy="282.3" r="1.25" fill="#7a5a80" />
<circle cx="66.29" cy="282.3" r="1.25" fill="#7a5a80" />
<circle cx="70.21" cy="282.3" r="1.25" fill="#7a5a80" />
<circle cx="74.13" cy="282.3" r="1.25" fill="#7a5a80" />
<circle cx="78.05" cy="282.3" r="1.25" fill="#7a5a80" />
<circle cx="81.97" cy="282.3" r="1.25" fill="#7a5a80" />
<circle cx="85.89" cy="282.3" r="1.25" fill="#4a4aa8" />
<circle cx="89.82" cy="282.3" r="1.25" fill="#4a4aa8" />
<circle cx="93.74" cy="282.3" r="1.25" fill="#4a4aa8" />
<circle cx="97.66" cy="282.3" r="1.25" fill="#5a5a5a" />
<circle cx="101.58" cy="282.3" r="1.25" fill="#5a5a5a" />
<circle cx="105.5" cy="282.3" r="1.25" fill="#5a5a5a" />
<rect x="60" y="280.6" width="20" height="3.4" rx="1.6" fill="#8a6a8a" opacity="0.75"/>
<circle cx="70" cy="282.3" r="2" fill="#3a3a50" />
<line x1="33.6" y1="282.3" x2="31.4" y2="275.8" stroke="#a88a30" stroke-width="1.5" />
<circle cx="31.4" cy="275.8" r="1.3" fill="#6a3a20" />
<line x1="33.6" y1="282.3" x2="35.8" y2="275.8" stroke="#a88a30" stroke-width="1.5" />
<circle cx="35.8" cy="275.8" r="1.3" fill="#6a3a20" />
<line x1="33.6" y1="282.3" x2="33.6" y2="287.8" stroke="#a88a30" stroke-width="1.5" />
<circle cx="33.6" cy="287.8" r="1.3" fill="#6a3a20" />
<circle cx="33.6" cy="282.3" r="2.1" fill="#c8b030" />
<line x1="62.7" y1="282.3" x2="60.5" y2="275.8" stroke="#a88a30" stroke-width="1.5" />
<circle cx="60.5" cy="275.8" r="1.3" fill="#6a3a20" />
<line x1="62.7" y1="282.3" x2="64.9" y2="275.8" stroke="#a88a30" stroke-width="1.5" />
<circle cx="64.9" cy="275.8" r="1.3" fill="#6a3a20" />
<line x1="62.7" y1="282.3" x2="62.7" y2="287.8" stroke="#a88a30" stroke-width="1.5" />
<circle cx="62.7" cy="287.8" r="1.3" fill="#6a3a20" />
<circle cx="62.7" cy="282.3" r="2.1" fill="#c8b030" />
<line x1="72.7" y1="282.3" x2="70.5" y2="275.8" stroke="#a88a30" stroke-width="1.5" />
<circle cx="70.5" cy="275.8" r="1.3" fill="#6a3a20" />
<line x1="72.7" y1="282.3" x2="74.9" y2="275.8" stroke="#a88a30" stroke-width="1.5" />
<circle cx="74.9" cy="275.8" r="1.3" fill="#6a3a20" />
<line x1="72.7" y1="282.3" x2="72.7" y2="287.8" stroke="#a88a30" stroke-width="1.5" />
<circle cx="72.7" cy="287.8" r="1.3" fill="#6a3a20" />
<circle cx="72.7" cy="282.3" r="2.1" fill="#c8b030" />
<line x1="102.7" y1="282.3" x2="100.5" y2="275.8" stroke="#a88a30" stroke-width="1.5" />
<circle cx="100.5" cy="275.8" r="1.3" fill="#6a3a20" />
<line x1="102.7" y1="282.3" x2="104.9" y2="275.8" stroke="#a88a30" stroke-width="1.5" />
<circle cx="104.9" cy="275.8" r="1.3" fill="#6a3a20" />
<line x1="102.7" y1="282.3" x2="102.7" y2="287.8" stroke="#a88a30" stroke-width="1.5" />
<circle cx="102.7" cy="287.8" r="1.3" fill="#6a3a20" />
<circle cx="102.7" cy="282.3" r="2.1" fill="#c8b030" />
<line x1="144.5" y1="281.4" x2="222.7" y2="281.4" stroke="#777" stroke-width="1.3" />
<circle cx="144.5" cy="281.4" r="1.25" fill="#8a3a30" />
<circle cx="148.41" cy="281.4" r="1.25" fill="#8a3a30" />
<circle cx="152.32" cy="281.4" r="1.25" fill="#5a5a5a" />
<circle cx="156.23" cy="281.4" r="1.25" fill="#5a5a5a" />
<circle cx="160.14" cy="281.4" r="1.25" fill="#5a5a5a" />
<circle cx="164.05" cy="281.4" r="1.25" fill="#5a5a5a" />
<circle cx="167.96" cy="281.4" r="1.25" fill="#5a5a5a" />
<circle cx="171.87" cy="281.4" r="1.25" fill="#5a5a5a" />
<circle cx="175.78" cy="281.4" r="1.25" fill="#5a5a5a" />
<circle cx="179.69" cy="281.4" r="1.25" fill="#6a3a6a" />
<circle cx="183.6" cy="281.4" r="1.25" fill="#6a3a6a" />
<circle cx="187.51" cy="281.4" r="1.25" fill="#2a8a5a" />
<circle cx="191.42" cy="281.4" r="1.25" fill="#2a8a5a" />
<circle cx="195.33" cy="281.4" r="1.25" fill="#2a8a5a" />
<circle cx="199.24" cy="281.4" r="1.25" fill="#2a8a5a" />
<circle cx="203.15" cy="281.4" r="1.25" fill="#2a8a5a" />
<circle cx="207.06" cy="281.4" r="1.25" fill="#2a8a5a" />
<circle cx="210.97" cy="281.4" r="1.25" fill="#2a8a5a" />
<circle cx="214.88" cy="281.4" r="1.25" fill="#2a8a5a" />
<circle cx="218.79" cy="281.4" r="1.25" fill="#2a8a5a" />
<circle cx="222.7" cy="281.4" r="1.25" fill="#2a8a5a" />
<rect x="173" y="279.7" width="19" height="3.4" rx="1.6" fill="#6a4a7a" opacity="0.75"/>
<circle cx="182.5" cy="281.4" r="2" fill="#3a3a50" />
<circle cx="144.5" cy="281.4" r="1.6" fill="#9a3a30" />
<circle cx="222.7" cy="281.4" r="1.5" fill="#2a8060" />
<line x1="251.4" y1="282" x2="331.8" y2="282" stroke="#777" stroke-width="1.3" />
<circle cx="251.4" cy="282" r="1.25" fill="#20957a" />
<circle cx="255.42" cy="282" r="1.25" fill="#20957a" />
<circle cx="259.44" cy="282" r="1.25" fill="#20957a" />
<circle cx="263.46" cy="282" r="1.25" fill="#20957a" />
<circle cx="267.48" cy="282" r="1.25" fill="#20957a" />
<circle cx="271.5" cy="282" r="1.25" fill="#20957a" />
<circle cx="275.52" cy="282" r="1.25" fill="#20957a" />
<circle cx="279.54" cy="282" r="1.25" fill="#20957a" />
<circle cx="283.56" cy="282" r="1.25" fill="#5a4a80" />
<circle cx="287.58" cy="282" r="1.25" fill="#5a4a80" />
<circle cx="291.6" cy="282" r="1.25" fill="#5a4a80" />
<circle cx="295.62" cy="282" r="1.25" fill="#5a4a80" />
<circle cx="299.64" cy="282" r="1.25" fill="#5a4a80" />
<circle cx="303.66" cy="282" r="1.25" fill="#5a4a80" />
<circle cx="307.68" cy="282" r="1.25" fill="#5a4a80" />
<circle cx="311.7" cy="282" r="1.25" fill="#5a5a5a" />
<circle cx="315.72" cy="282" r="1.25" fill="#5a5a5a" />
<circle cx="319.74" cy="282" r="1.25" fill="#5a5a5a" />
<circle cx="323.76" cy="282" r="1.25" fill="#5a5a5a" />
<circle cx="327.78" cy="282" r="1.25" fill="#5a5a5a" />
<circle cx="331.8" cy="282" r="1.25" fill="#5a5a5a" />
<rect x="279" y="280.3" width="30" height="3.4" rx="1.6" fill="#5a5a88" opacity="0.75"/>
<circle cx="294" cy="282" r="2" fill="#3a3a50" />
<line x1="354" y1="281.5" x2="435" y2="281.5" stroke="#777" stroke-width="1.3" />
<circle cx="354" cy="281.5" r="1.25" fill="#5a5a5a" />
<circle cx="358.05" cy="281.5" r="1.25" fill="#5a5a5a" />
<circle cx="362.1" cy="281.5" r="1.25" fill="#5a5a5a" />
<circle cx="366.15" cy="281.5" r="1.25" fill="#5a5a5a" />
<circle cx="370.2" cy="281.5" r="1.25" fill="#5a5a5a" />
<circle cx="374.25" cy="281.5" r="1.25" fill="#5a5a5a" />
<circle cx="378.3" cy="281.5" r="1.25" fill="#5a5a5a" />
<circle cx="382.35" cy="281.5" r="1.25" fill="#4a4a90" />
<circle cx="386.4" cy="281.5" r="1.25" fill="#4a4a90" />
<circle cx="390.45" cy="281.5" r="1.25" fill="#4a4a90" />
<circle cx="394.5" cy="281.5" r="1.25" fill="#4a4a90" />
<circle cx="398.55" cy="281.5" r="1.25" fill="#4a4a90" />
<circle cx="402.6" cy="281.5" r="1.25" fill="#4a4a90" />
<circle cx="406.65" cy="281.5" r="1.25" fill="#4a4a90" />
<circle cx="410.7" cy="281.5" r="1.25" fill="#5a5a5a" />
<circle cx="414.75" cy="281.5" r="1.25" fill="#5a5a5a" />
<circle cx="418.8" cy="281.5" r="1.25" fill="#5a5a5a" />
<circle cx="422.85" cy="281.5" r="1.25" fill="#5a5a5a" />
<circle cx="426.9" cy="281.5" r="1.25" fill="#5a5a5a" />
<circle cx="430.95" cy="281.5" r="1.25" fill="#5a5a5a" />
<circle cx="435" cy="281.5" r="1.25" fill="#5a5a5a" />
<rect x="379.5" y="279.8" width="27.8" height="3.4" rx="1.6" fill="#55558a" opacity="0.75"/>
<circle cx="393.4" cy="281.5" r="2" fill="#3a3a50" />
<line x1="354" y1="281.5" x2="351.5" y2="278.5" stroke="#3030b0" stroke-width="1.3" />
<line x1="354" y1="281.5" x2="351.5" y2="284" stroke="#3030b0" stroke-width="1.2" />
<circle cx="354" cy="281.5" r="1.6" fill="#3030b0" />
<line x1="435" y1="281.5" x2="437.5" y2="278.5" stroke="#3030b0" stroke-width="1.3" />
<line x1="435" y1="281.5" x2="437.5" y2="284" stroke="#3030b0" stroke-width="1.2" />
<circle cx="435" cy="281.5" r="1.6" fill="#3030b0" />
<line x1="464.8" y1="282.3" x2="541.7" y2="282.3" stroke="#777" stroke-width="1.3" />
<circle cx="464.8" cy="282.3" r="1.25" fill="#5a5a5a" />
<circle cx="468.85" cy="282.3" r="1.25" fill="#5a5a5a" />
<circle cx="472.89" cy="282.3" r="1.25" fill="#5a5a5a" />
<circle cx="476.94" cy="282.3" r="1.25" fill="#5a5a5a" />
<circle cx="480.99" cy="282.3" r="1.25" fill="#5a5a5a" />
<circle cx="485.04" cy="282.3" r="1.25" fill="#5a5a5a" />
<circle cx="489.08" cy="282.3" r="1.25" fill="#5a5a5a" />
<circle cx="493.13" cy="282.3" r="1.25" fill="#5a5a5a" />
<circle cx="497.18" cy="282.3" r="1.25" fill="#4a4a90" />
<circle cx="501.23" cy="282.3" r="1.25" fill="#4a4a90" />
<circle cx="505.27" cy="282.3" r="1.25" fill="#4a4a90" />
<circle cx="509.32" cy="282.3" r="1.25" fill="#4a4a90" />
<circle cx="513.37" cy="282.3" r="1.25" fill="#5a5a5a" />
<circle cx="517.42" cy="282.3" r="1.25" fill="#5a5a5a" />
<circle cx="521.46" cy="282.3" r="1.25" fill="#5a5a5a" />
<circle cx="525.51" cy="282.3" r="1.25" fill="#5a5a5a" />
<circle cx="529.56" cy="282.3" r="1.25" fill="#5a5a5a" />
<circle cx="533.61" cy="282.3" r="1.25" fill="#5a5a5a" />
<circle cx="537.65" cy="282.3" r="1.25" fill="#5a5a5a" />
<circle cx="541.7" cy="282.3" r="1.25" fill="#5a5a5a" />
<rect x="497" y="280.6" width="12" height="3.4" rx="1.6" fill="#55558a" opacity="0.75"/>
<circle cx="503" cy="282.3" r="2" fill="#3a3a50" />
<line x1="469" y1="276" x2="469" y2="288.5" stroke="#666" stroke-width="1.2" />
<line x1="537.6" y1="276" x2="537.6" y2="288.5" stroke="#666" stroke-width="1.2" />
<path d="M475.2,276.5 Q471.8,282.3 475.2,288" stroke="#555" stroke-width="1.1" fill="none"/>
<path d="M512,276.5 Q508.6,282.3 512,288" stroke="#555" stroke-width="1.1" fill="none"/>
<path d="M494.5,276.5 Q497.9,282.3 494.5,288" stroke="#555" stroke-width="1.1" fill="none"/>
<path d="M531.4,276.5 Q534.8,282.3 531.4,288" stroke="#555" stroke-width="1.1" fill="none"/>
</svg>
</body></html>
